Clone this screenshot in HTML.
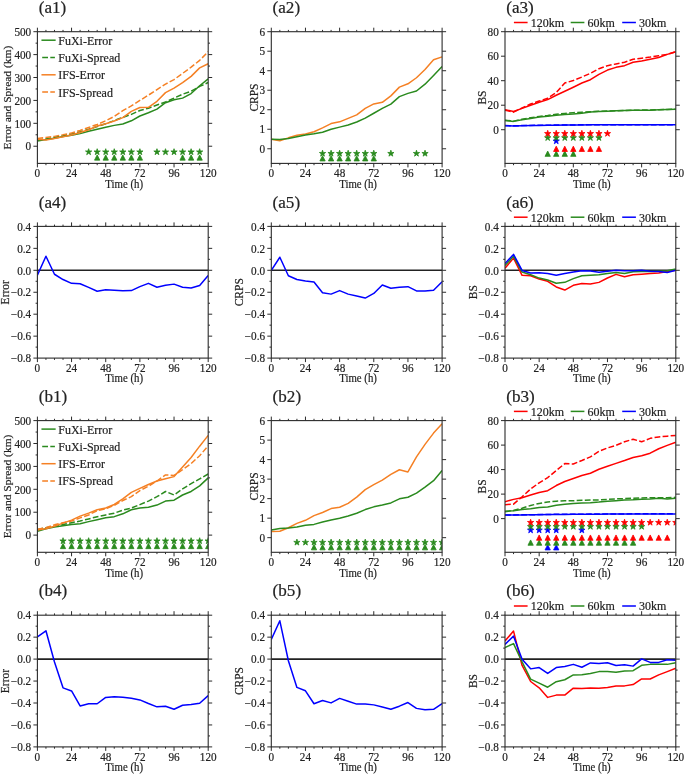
<!DOCTYPE html>
<html><head><meta charset="utf-8"><style>
html,body{margin:0;padding:0;background:#fff;}
svg{display:block;will-change:transform;}
text{font-family:"Liberation Serif", serif;fill:#222;stroke:#222;stroke-width:0.2px;}
</style></head><body>
<svg width="685" height="774" viewBox="0 0 685 774">
<defs><clipPath id="c0"><rect x="37.4" y="31.7" width="170.8" height="131.7"/></clipPath><clipPath id="c1"><rect x="271.3" y="31.7" width="170.8" height="131.7"/></clipPath><clipPath id="c2"><rect x="505" y="31.7" width="170.8" height="131.7"/></clipPath><clipPath id="c3"><rect x="37.4" y="226.4" width="170.8" height="131.7"/></clipPath><clipPath id="c4"><rect x="271.3" y="226.4" width="170.8" height="131.7"/></clipPath><clipPath id="c5"><rect x="505" y="226.4" width="170.8" height="131.7"/></clipPath><clipPath id="c6"><rect x="37.4" y="420.6" width="170.8" height="131.7"/></clipPath><clipPath id="c7"><rect x="271.3" y="420.6" width="170.8" height="131.7"/></clipPath><clipPath id="c8"><rect x="505" y="420.6" width="170.8" height="131.7"/></clipPath><clipPath id="c9"><rect x="37.4" y="615.2" width="170.8" height="131.7"/></clipPath><clipPath id="c10"><rect x="271.3" y="615.2" width="170.8" height="131.7"/></clipPath><clipPath id="c11"><rect x="505" y="615.2" width="170.8" height="131.7"/></clipPath></defs>
<rect width="685" height="774" fill="#fff"/>
<polyline points="37.4,140.27 45.94,138.89 54.48,137.29 63.02,135.69 71.56,133.85 80.1,131.79 88.64,129.27 97.18,126.52 105.72,123.78 114.26,120.57 122.8,117.36 131.34,114.38 139.88,110.49 148.42,108.2 156.96,104.99 165.5,102.02 174.04,98.12 182.58,94.23 191.12,91.25 199.66,86.44 208.2,82.55" fill="none" stroke="#2a8a1e" stroke-width="1.5" stroke-linejoin="round" stroke-dasharray="5.8 2.3" clip-path="url(#c0)"/>
<polyline points="37.4,140.95 45.94,139.58 54.48,138.21 63.02,136.6 71.56,135.23 80.1,133.62 88.64,131.33 97.18,129.27 105.72,127.21 114.26,125.38 122.8,124 131.34,120.8 139.88,115.99 148.42,112.78 156.96,109.12 165.5,102.7 174.04,99.73 182.58,98.12 191.12,93.54 199.66,85.75 208.2,78.88" fill="none" stroke="#2a8a1e" stroke-width="1.5" stroke-linejoin="round" clip-path="url(#c0)"/>
<polyline points="37.4,138.43 45.94,137.52 54.48,136.37 63.02,134.77 71.56,132.94 80.1,130.42 88.64,127.44 97.18,124.46 105.72,120.8 114.26,116.45 122.8,110.72 131.34,105.91 139.88,100.41 148.42,95.15 156.96,89.65 165.5,84.15 174.04,79.57 182.58,73.39 191.12,67.2 199.66,60.33 208.2,51.63" fill="none" stroke="#f58024" stroke-width="1.5" stroke-linejoin="round" stroke-dasharray="5.8 2.3" clip-path="url(#c0)"/>
<polyline points="37.4,139.35 45.94,140.04 54.48,138.43 63.02,136.83 71.56,135 80.1,132.48 88.64,129.73 97.18,126.07 105.72,123.78 114.26,121.03 122.8,117.59 131.34,111.41 139.88,107.51 148.42,107.28 156.96,101.33 165.5,92.63 174.04,88.04 182.58,82.55 191.12,76.36 199.66,67.89 208.2,63.77" fill="none" stroke="#f58024" stroke-width="1.5" stroke-linejoin="round" clip-path="url(#c0)"/>
<path d="M88.64 148.7L89.38 150.98L91.78 150.98L89.84 152.39L90.58 154.67L88.64 153.26L86.7 154.67L87.44 152.39L85.5 150.98L87.9 150.98ZM97.18 148.7L97.92 150.98L100.32 150.98L98.38 152.39L99.12 154.67L97.18 153.26L95.24 154.67L95.98 152.39L94.04 150.98L96.44 150.98ZM105.72 148.7L106.46 150.98L108.86 150.98L106.92 152.39L107.66 154.67L105.72 153.26L103.78 154.67L104.52 152.39L102.58 150.98L104.98 150.98ZM114.26 148.7L115 150.98L117.4 150.98L115.46 152.39L116.2 154.67L114.26 153.26L112.32 154.67L113.06 152.39L111.12 150.98L113.52 150.98ZM122.8 148.7L123.54 150.98L125.94 150.98L124 152.39L124.74 154.67L122.8 153.26L120.86 154.67L121.6 152.39L119.66 150.98L122.06 150.98ZM131.34 148.7L132.08 150.98L134.48 150.98L132.54 152.39L133.28 154.67L131.34 153.26L129.4 154.67L130.14 152.39L128.2 150.98L130.6 150.98ZM139.88 148.7L140.62 150.98L143.02 150.98L141.08 152.39L141.82 154.67L139.88 153.26L137.94 154.67L138.68 152.39L136.74 150.98L139.14 150.98ZM156.96 148.7L157.7 150.98L160.1 150.98L158.16 152.39L158.9 154.67L156.96 153.26L155.02 154.67L155.76 152.39L153.82 150.98L156.22 150.98ZM165.5 148.7L166.24 150.98L168.64 150.98L166.7 152.39L167.44 154.67L165.5 153.26L163.56 154.67L164.3 152.39L162.36 150.98L164.76 150.98ZM174.04 148.7L174.78 150.98L177.18 150.98L175.24 152.39L175.98 154.67L174.04 153.26L172.1 154.67L172.84 152.39L170.9 150.98L173.3 150.98ZM182.58 148.7L183.32 150.98L185.72 150.98L183.78 152.39L184.52 154.67L182.58 153.26L180.64 154.67L181.38 152.39L179.44 150.98L181.84 150.98ZM191.12 148.7L191.86 150.98L194.26 150.98L192.32 152.39L193.06 154.67L191.12 153.26L189.18 154.67L189.92 152.39L187.98 150.98L190.38 150.98ZM199.66 148.7L200.4 150.98L202.8 150.98L200.86 152.39L201.6 154.67L199.66 153.26L197.72 154.67L198.46 152.39L196.52 150.98L198.92 150.98Z" fill="#2a8a1e" stroke="#2a8a1e" stroke-width="0.8" stroke-linejoin="miter" clip-path="url(#c0)"/>
<path d="M97.18 154.85L94.53 160.15L99.83 160.15ZM105.72 154.85L103.07 160.15L108.37 160.15ZM114.26 154.85L111.61 160.15L116.91 160.15ZM122.8 154.85L120.15 160.15L125.45 160.15ZM131.34 154.85L128.69 160.15L133.99 160.15ZM139.88 154.85L137.23 160.15L142.53 160.15ZM182.58 154.85L179.93 160.15L185.23 160.15ZM191.12 154.85L188.47 160.15L193.77 160.15ZM199.66 154.85L197.01 160.15L202.31 160.15Z" fill="#2a8a1e" stroke="#2a8a1e" stroke-width="0.8" stroke-linejoin="miter" clip-path="url(#c0)"/>
<path d="M42.2 40.2H54.9" stroke="#2a8a1e" stroke-width="1.5" stroke-linecap="square"/>
<text transform="translate(58.3 44.6) scale(0.9346 1)" font-size="12.84">FuXi-Error</text>
<path d="M42.2 57.5H54.9" stroke="#2a8a1e" stroke-width="1.5" stroke-dasharray="5.8 2.3"/>
<text transform="translate(58.3 61.9) scale(0.9346 1)" font-size="12.84">FuXi-Spread</text>
<path d="M42.2 74.8H54.9" stroke="#f58024" stroke-width="1.5" stroke-linecap="square"/>
<text transform="translate(58.3 79.2) scale(0.9346 1)" font-size="12.84">IFS-Error</text>
<path d="M42.2 92.1H54.9" stroke="#f58024" stroke-width="1.5" stroke-dasharray="5.8 2.3"/>
<text transform="translate(58.3 96.5) scale(0.9346 1)" font-size="12.84">IFS-Spread</text>
<polyline points="271.3,139.21 279.84,140.77 288.38,137.84 296.92,135.3 305.46,133.94 314,131.79 322.54,127.89 331.08,123.6 339.62,121.84 348.16,118.33 356.7,114.82 365.24,108.38 373.78,103.89 382.32,102.33 390.86,95.89 399.4,87.11 407.94,83.79 416.48,77.75 425.02,69.55 433.56,59.8 442.1,56.87" fill="none" stroke="#f58024" stroke-width="1.5" stroke-linejoin="round" clip-path="url(#c1)"/>
<polyline points="271.3,139.21 279.84,139.6 288.38,138.43 296.92,136.67 305.46,134.91 314,133.74 322.54,132.18 331.08,129.26 339.62,127.11 348.16,124.96 356.7,122.04 365.24,118.13 373.78,113.26 382.32,108.38 390.86,104.09 399.4,96.67 407.94,93.36 416.48,91.01 425.02,84.18 433.56,75.4 442.1,66.43" fill="none" stroke="#2a8a1e" stroke-width="1.5" stroke-linejoin="round" clip-path="url(#c1)"/>
<path d="M322.54 150.2L323.28 152.48L325.68 152.48L323.74 153.89L324.48 156.17L322.54 154.76L320.6 156.17L321.34 153.89L319.4 152.48L321.8 152.48ZM331.08 150.2L331.82 152.48L334.22 152.48L332.28 153.89L333.02 156.17L331.08 154.76L329.14 156.17L329.88 153.89L327.94 152.48L330.34 152.48ZM339.62 150.2L340.36 152.48L342.76 152.48L340.82 153.89L341.56 156.17L339.62 154.76L337.68 156.17L338.42 153.89L336.48 152.48L338.88 152.48ZM348.16 150.2L348.9 152.48L351.3 152.48L349.36 153.89L350.1 156.17L348.16 154.76L346.22 156.17L346.96 153.89L345.02 152.48L347.42 152.48ZM356.7 150.2L357.44 152.48L359.84 152.48L357.9 153.89L358.64 156.17L356.7 154.76L354.76 156.17L355.5 153.89L353.56 152.48L355.96 152.48ZM365.24 150.2L365.98 152.48L368.38 152.48L366.44 153.89L367.18 156.17L365.24 154.76L363.3 156.17L364.04 153.89L362.1 152.48L364.5 152.48ZM373.78 150.2L374.52 152.48L376.92 152.48L374.98 153.89L375.72 156.17L373.78 154.76L371.84 156.17L372.58 153.89L370.64 152.48L373.04 152.48ZM390.86 150.2L391.6 152.48L394 152.48L392.06 153.89L392.8 156.17L390.86 154.76L388.92 156.17L389.66 153.89L387.72 152.48L390.12 152.48ZM416.48 150.2L417.22 152.48L419.62 152.48L417.68 153.89L418.42 156.17L416.48 154.76L414.54 156.17L415.28 153.89L413.34 152.48L415.74 152.48ZM425.02 150.2L425.76 152.48L428.16 152.48L426.22 153.89L426.96 156.17L425.02 154.76L423.08 156.17L423.82 153.89L421.88 152.48L424.28 152.48Z" fill="#2a8a1e" stroke="#2a8a1e" stroke-width="0.8" stroke-linejoin="miter" clip-path="url(#c1)"/>
<path d="M322.54 155.65L319.89 160.95L325.19 160.95ZM331.08 155.65L328.43 160.95L333.73 160.95ZM339.62 155.65L336.97 160.95L342.27 160.95ZM348.16 155.65L345.51 160.95L350.81 160.95ZM356.7 155.65L354.05 160.95L359.35 160.95ZM365.24 155.65L362.59 160.95L367.89 160.95ZM373.78 155.65L371.13 160.95L376.43 160.95Z" fill="#2a8a1e" stroke="#2a8a1e" stroke-width="0.8" stroke-linejoin="miter" clip-path="url(#c1)"/>
<polyline points="505,110.11 513.54,112.19 522.08,108.02 530.62,103.98 539.16,101.04 547.7,98.22 556.24,92.59 564.78,83.03 573.32,80.46 581.86,77.03 590.4,73.35 598.94,68.7 607.48,65.64 616.02,63.92 624.56,62.21 633.1,59.27 641.64,58.16 650.18,57.06 658.72,55.71 667.26,54.36 675.8,51.67" fill="none" stroke="#ff0000" stroke-width="1.5" stroke-linejoin="round" stroke-dasharray="5.8 2.3" clip-path="url(#c2)"/>
<polyline points="505,109.74 513.54,111.46 522.08,108.39 530.62,105.21 539.16,102.27 547.7,99.57 556.24,95.28 564.78,91.24 573.32,87.2 581.86,83.03 590.4,79.72 598.94,74.33 607.48,70.05 616.02,67.35 624.56,65.64 633.1,62.21 641.64,60.98 650.18,59.27 658.72,57.55 667.26,54.36 675.8,51.67" fill="none" stroke="#ff0000" stroke-width="1.5" stroke-linejoin="round" clip-path="url(#c2)"/>
<polyline points="505,120.28 513.54,121.13 522.08,119.17 530.62,117.7 539.16,116.48 547.7,115.5 556.24,114.27 564.78,113.42 573.32,112.68 581.86,112.19 590.4,111.7 598.94,111.33 607.48,110.97 616.02,110.72 624.56,110.47 633.1,110.23 641.64,110.11 650.18,109.98 658.72,109.74 667.26,109.49 675.8,109.13" fill="none" stroke="#2a8a1e" stroke-width="1.5" stroke-linejoin="round" stroke-dasharray="5.8 2.3" clip-path="url(#c2)"/>
<polyline points="505,120.52 513.54,121.38 522.08,119.66 530.62,118.44 539.16,117.09 547.7,116.23 556.24,115.25 564.78,114.4 573.32,113.91 581.86,113.17 590.4,112.07 598.94,111.58 607.48,111.21 616.02,110.84 624.56,110.6 633.1,110.35 641.64,110.23 650.18,110.23 658.72,109.86 667.26,109.62 675.8,109.37" fill="none" stroke="#2a8a1e" stroke-width="1.5" stroke-linejoin="round" clip-path="url(#c2)"/>
<polyline points="505,125.54 513.54,125.79 522.08,125.54 530.62,125.42 539.16,125.3 547.7,125.18 556.24,125.05 564.78,124.93 573.32,124.93 581.86,124.81 590.4,124.81 598.94,124.81 607.48,124.81 616.02,124.81 624.56,124.81 633.1,124.81 641.64,124.81 650.18,124.81 658.72,124.81 667.26,124.81 675.8,124.81" fill="none" stroke="#0000ff" stroke-width="1.5" stroke-linejoin="round" stroke-dasharray="5.8 2.3" clip-path="url(#c2)"/>
<polyline points="505,125.67 513.54,125.91 522.08,125.67 530.62,125.54 539.16,125.42 547.7,125.3 556.24,125.18 564.78,125.05 573.32,125.05 581.86,124.93 590.4,124.81 598.94,124.81 607.48,124.81 616.02,124.81 624.56,124.81 633.1,124.81 641.64,124.81 650.18,124.81 658.72,124.81 667.26,124.81 675.8,124.81" fill="none" stroke="#0000ff" stroke-width="1.5" stroke-linejoin="round" clip-path="url(#c2)"/>
<path d="M556.24 137.8L556.98 140.08L559.38 140.08L557.44 141.49L558.18 143.77L556.24 142.36L554.3 143.77L555.04 141.49L553.1 140.08L555.5 140.08Z" fill="#0000ff" stroke="#0000ff" stroke-width="0.8" stroke-linejoin="miter" clip-path="url(#c2)"/>
<path d="M547.7 134.5L548.44 136.78L550.84 136.78L548.9 138.19L549.64 140.47L547.7 139.06L545.76 140.47L546.5 138.19L544.56 136.78L546.96 136.78ZM556.24 134.5L556.98 136.78L559.38 136.78L557.44 138.19L558.18 140.47L556.24 139.06L554.3 140.47L555.04 138.19L553.1 136.78L555.5 136.78ZM564.78 134.5L565.52 136.78L567.92 136.78L565.98 138.19L566.72 140.47L564.78 139.06L562.84 140.47L563.58 138.19L561.64 136.78L564.04 136.78ZM573.32 134.5L574.06 136.78L576.46 136.78L574.52 138.19L575.26 140.47L573.32 139.06L571.38 140.47L572.12 138.19L570.18 136.78L572.58 136.78ZM581.86 134.5L582.6 136.78L585 136.78L583.06 138.19L583.8 140.47L581.86 139.06L579.92 140.47L580.66 138.19L578.72 136.78L581.12 136.78ZM590.4 134.5L591.14 136.78L593.54 136.78L591.6 138.19L592.34 140.47L590.4 139.06L588.46 140.47L589.2 138.19L587.26 136.78L589.66 136.78ZM598.94 134.5L599.68 136.78L602.08 136.78L600.14 138.19L600.88 140.47L598.94 139.06L597 140.47L597.74 138.19L595.8 136.78L598.2 136.78Z" fill="#2a8a1e" stroke="#2a8a1e" stroke-width="0.8" stroke-linejoin="miter" clip-path="url(#c2)"/>
<path d="M547.7 130.3L548.44 132.58L550.84 132.58L548.9 133.99L549.64 136.27L547.7 134.86L545.76 136.27L546.5 133.99L544.56 132.58L546.96 132.58ZM556.24 130.3L556.98 132.58L559.38 132.58L557.44 133.99L558.18 136.27L556.24 134.86L554.3 136.27L555.04 133.99L553.1 132.58L555.5 132.58ZM564.78 130.3L565.52 132.58L567.92 132.58L565.98 133.99L566.72 136.27L564.78 134.86L562.84 136.27L563.58 133.99L561.64 132.58L564.04 132.58ZM573.32 130.3L574.06 132.58L576.46 132.58L574.52 133.99L575.26 136.27L573.32 134.86L571.38 136.27L572.12 133.99L570.18 132.58L572.58 132.58ZM581.86 130.3L582.6 132.58L585 132.58L583.06 133.99L583.8 136.27L581.86 134.86L579.92 136.27L580.66 133.99L578.72 132.58L581.12 132.58ZM590.4 130.3L591.14 132.58L593.54 132.58L591.6 133.99L592.34 136.27L590.4 134.86L588.46 136.27L589.2 133.99L587.26 132.58L589.66 132.58ZM598.94 130.3L599.68 132.58L602.08 132.58L600.14 133.99L600.88 136.27L598.94 134.86L597 136.27L597.74 133.99L595.8 132.58L598.2 132.58ZM607.48 130.3L608.22 132.58L610.62 132.58L608.68 133.99L609.42 136.27L607.48 134.86L605.54 136.27L606.28 133.99L604.34 132.58L606.74 132.58Z" fill="#ff0000" stroke="#ff0000" stroke-width="0.8" stroke-linejoin="miter" clip-path="url(#c2)"/>
<path d="M547.7 151.05L545.05 156.35L550.35 156.35ZM556.24 151.05L553.59 156.35L558.89 156.35ZM564.78 151.05L562.13 156.35L567.43 156.35ZM573.32 151.05L570.67 156.35L575.97 156.35Z" fill="#2a8a1e" stroke="#2a8a1e" stroke-width="0.8" stroke-linejoin="miter" clip-path="url(#c2)"/>
<path d="M556.24 146.15L553.59 151.45L558.89 151.45ZM564.78 146.15L562.13 151.45L567.43 151.45ZM573.32 146.15L570.67 151.45L575.97 151.45ZM581.86 146.15L579.21 151.45L584.51 151.45ZM590.4 146.15L587.75 151.45L593.05 151.45ZM598.94 146.15L596.29 151.45L601.59 151.45Z" fill="#ff0000" stroke="#ff0000" stroke-width="0.8" stroke-linejoin="miter" clip-path="url(#c2)"/>
<path d="M513.9 22.5H527.6" stroke="#ff0000" stroke-width="1.5"/>
<text transform="translate(530.7 26.8) scale(0.9346 1)" font-size="12.84">120km</text>
<path d="M570.7 22.5H584.4" stroke="#2a8a1e" stroke-width="1.5"/>
<text transform="translate(587.5 26.8) scale(0.9346 1)" font-size="12.84">60km</text>
<path d="M622.2 22.5H635.9" stroke="#0000ff" stroke-width="1.5"/>
<text transform="translate(639 26.8) scale(0.9346 1)" font-size="12.84">30km</text>
<path d="M37.4 270.3H208.2" stroke="#222" stroke-width="1.6"/>
<path d="M271.3 270.3H442.1" stroke="#222" stroke-width="1.6"/>
<path d="M505 270.3H675.8" stroke="#222" stroke-width="1.6"/>
<path d="M37.4 659.1H208.2" stroke="#222" stroke-width="1.6"/>
<path d="M271.3 659.1H442.1" stroke="#222" stroke-width="1.6"/>
<path d="M505 659.1H675.8" stroke="#222" stroke-width="1.6"/>
<polyline points="37.4,275.13 45.94,256.25 54.48,274.25 63.02,279.52 71.56,283.36 80.1,283.69 88.64,287.42 97.18,291.26 105.72,289.84 114.26,290.16 122.8,290.71 131.34,290.6 139.88,286.65 148.42,283.36 156.96,287.2 165.5,285.34 174.04,284.13 182.58,287.2 191.12,287.97 199.66,285.45 208.2,275.46" fill="none" stroke="#0000ff" stroke-width="1.5" stroke-linejoin="round" clip-path="url(#c3)"/>
<polyline points="271.3,270.3 279.84,257.24 288.38,275.79 296.92,279.52 305.46,280.95 314,282.04 322.54,292.8 331.08,294.12 339.62,290.6 348.16,294.12 356.7,296.09 365.24,298.07 373.78,293.46 382.32,285.01 390.86,288.3 399.4,287.2 407.94,286.65 416.48,290.93 425.02,290.93 433.56,290.16 442.1,281.71" fill="none" stroke="#0000ff" stroke-width="1.5" stroke-linejoin="round" clip-path="url(#c4)"/>
<polyline points="505,268.21 513.54,258.12 522.08,275.35 530.62,275.68 539.16,279.08 547.7,281.27 556.24,286.98 564.78,290.06 573.32,285.34 581.86,283.58 590.4,283.91 598.94,282.37 607.48,277.98 616.02,274.36 624.56,276.67 633.1,274.8 641.64,274.14 650.18,273.48 658.72,273.04 667.26,271.51 675.8,270.3" fill="none" stroke="#ff0000" stroke-width="1.5" stroke-linejoin="round" clip-path="url(#c5)"/>
<polyline points="505,265.58 513.54,256.36 522.08,272.06 530.62,274.8 539.16,278.09 547.7,279.96 556.24,283.25 564.78,282.37 573.32,278.64 581.86,275.79 590.4,275.35 598.94,274.8 607.48,273.48 616.02,272.39 624.56,273.48 633.1,271.84 641.64,271.51 650.18,271.51 658.72,271.18 667.26,270.74 675.8,269.09" fill="none" stroke="#2a8a1e" stroke-width="1.5" stroke-linejoin="round" clip-path="url(#c5)"/>
<polyline points="505,263.61 513.54,254.39 522.08,270.41 530.62,273.04 539.16,272.82 547.7,273.48 556.24,275.24 564.78,273.48 573.32,271.95 581.86,270.85 590.4,270.96 598.94,272.17 607.48,271.18 616.02,270.3 624.56,270.74 633.1,270.74 641.64,270.3 650.18,271.18 658.72,271.51 667.26,272.5 675.8,270.19" fill="none" stroke="#0000ff" stroke-width="1.5" stroke-linejoin="round" clip-path="url(#c5)"/>
<path d="M513.9 217.2H527.6" stroke="#ff0000" stroke-width="1.5"/>
<text transform="translate(530.7 221.5) scale(0.9346 1)" font-size="12.84">120km</text>
<path d="M570.7 217.2H584.4" stroke="#2a8a1e" stroke-width="1.5"/>
<text transform="translate(587.5 221.5) scale(0.9346 1)" font-size="12.84">60km</text>
<path d="M622.2 217.2H635.9" stroke="#0000ff" stroke-width="1.5"/>
<text transform="translate(639 221.5) scale(0.9346 1)" font-size="12.84">30km</text>
<polyline points="37.4,529.74 45.94,527.63 54.48,526.23 63.02,524.59 71.56,522.75 80.1,521.04 88.64,518.95 97.18,516.66 105.72,514.97 114.26,513.16 122.8,510.16 131.34,508.07 139.88,504.57 148.42,501.09 156.96,496.69 165.5,491.49 174.04,494.99 182.58,488.9 191.12,483.61 199.66,478.91 208.2,474.01" fill="none" stroke="#2a8a1e" stroke-width="1.5" stroke-linejoin="round" stroke-dasharray="5.8 2.3" clip-path="url(#c6)"/>
<polyline points="37.4,531.23 45.94,528.82 54.48,527.11 63.02,525.73 71.56,524.59 80.1,523.67 88.64,521.61 97.18,519.66 105.72,517.85 114.26,516.66 122.8,513.82 131.34,509.77 139.88,508.07 148.42,507.18 156.96,505.07 165.5,501.09 174.04,500.17 182.58,494.99 191.12,491.49 199.66,485.9 208.2,477.91" fill="none" stroke="#2a8a1e" stroke-width="1.5" stroke-linejoin="round" clip-path="url(#c6)"/>
<polyline points="37.4,529.33 45.94,527.63 54.48,524.84 63.02,522.75 71.56,521.04 80.1,517.85 88.64,514.97 97.18,510.61 105.72,508.87 114.26,505.35 122.8,500.54 131.34,496.69 139.88,490.6 148.42,486.2 156.96,481 165.5,474.91 174.04,475.41 182.58,469.73 191.12,463.52 199.66,455.74 208.2,445.77" fill="none" stroke="#f58024" stroke-width="1.5" stroke-linejoin="round" stroke-dasharray="5.8 2.3" clip-path="url(#c6)"/>
<polyline points="37.4,530.08 45.94,528.82 54.48,526.23 63.02,523.14 71.56,520.14 80.1,516.16 88.64,513.16 97.18,509.7 105.72,507.96 114.26,504.48 122.8,498.93 131.34,492.38 139.88,488.31 148.42,484.5 156.96,481 165.5,478.71 174.04,476.62 182.58,467.03 191.12,457.48 199.66,446.16 208.2,435.37" fill="none" stroke="#f58024" stroke-width="1.5" stroke-linejoin="round" clip-path="url(#c6)"/>
<path d="M63.02 537.7L63.76 539.98L66.16 539.98L64.22 541.39L64.96 543.67L63.02 542.26L61.08 543.67L61.82 541.39L59.88 539.98L62.28 539.98ZM71.56 537.7L72.3 539.98L74.7 539.98L72.76 541.39L73.5 543.67L71.56 542.26L69.62 543.67L70.36 541.39L68.42 539.98L70.82 539.98ZM80.1 537.7L80.84 539.98L83.24 539.98L81.3 541.39L82.04 543.67L80.1 542.26L78.16 543.67L78.9 541.39L76.96 539.98L79.36 539.98ZM88.64 537.7L89.38 539.98L91.78 539.98L89.84 541.39L90.58 543.67L88.64 542.26L86.7 543.67L87.44 541.39L85.5 539.98L87.9 539.98ZM97.18 537.7L97.92 539.98L100.32 539.98L98.38 541.39L99.12 543.67L97.18 542.26L95.24 543.67L95.98 541.39L94.04 539.98L96.44 539.98ZM105.72 537.7L106.46 539.98L108.86 539.98L106.92 541.39L107.66 543.67L105.72 542.26L103.78 543.67L104.52 541.39L102.58 539.98L104.98 539.98ZM114.26 537.7L115 539.98L117.4 539.98L115.46 541.39L116.2 543.67L114.26 542.26L112.32 543.67L113.06 541.39L111.12 539.98L113.52 539.98ZM122.8 537.7L123.54 539.98L125.94 539.98L124 541.39L124.74 543.67L122.8 542.26L120.86 543.67L121.6 541.39L119.66 539.98L122.06 539.98ZM131.34 537.7L132.08 539.98L134.48 539.98L132.54 541.39L133.28 543.67L131.34 542.26L129.4 543.67L130.14 541.39L128.2 539.98L130.6 539.98ZM139.88 537.7L140.62 539.98L143.02 539.98L141.08 541.39L141.82 543.67L139.88 542.26L137.94 543.67L138.68 541.39L136.74 539.98L139.14 539.98ZM148.42 537.7L149.16 539.98L151.56 539.98L149.62 541.39L150.36 543.67L148.42 542.26L146.48 543.67L147.22 541.39L145.28 539.98L147.68 539.98ZM156.96 537.7L157.7 539.98L160.1 539.98L158.16 541.39L158.9 543.67L156.96 542.26L155.02 543.67L155.76 541.39L153.82 539.98L156.22 539.98ZM165.5 537.7L166.24 539.98L168.64 539.98L166.7 541.39L167.44 543.67L165.5 542.26L163.56 543.67L164.3 541.39L162.36 539.98L164.76 539.98ZM174.04 537.7L174.78 539.98L177.18 539.98L175.24 541.39L175.98 543.67L174.04 542.26L172.1 543.67L172.84 541.39L170.9 539.98L173.3 539.98ZM182.58 537.7L183.32 539.98L185.72 539.98L183.78 541.39L184.52 543.67L182.58 542.26L180.64 543.67L181.38 541.39L179.44 539.98L181.84 539.98ZM191.12 537.7L191.86 539.98L194.26 539.98L192.32 541.39L193.06 543.67L191.12 542.26L189.18 543.67L189.92 541.39L187.98 539.98L190.38 539.98ZM199.66 537.7L200.4 539.98L202.8 539.98L200.86 541.39L201.6 543.67L199.66 542.26L197.72 543.67L198.46 541.39L196.52 539.98L198.92 539.98ZM208.2 537.7L208.94 539.98L211.34 539.98L209.4 541.39L210.14 543.67L208.2 542.26L206.26 543.67L207 541.39L205.06 539.98L207.46 539.98Z" fill="#2a8a1e" stroke="#2a8a1e" stroke-width="0.8" stroke-linejoin="miter" clip-path="url(#c6)"/>
<path d="M63.02 543.35L60.37 548.65L65.67 548.65ZM71.56 543.35L68.91 548.65L74.21 548.65ZM80.1 543.35L77.45 548.65L82.75 548.65ZM88.64 543.35L85.99 548.65L91.29 548.65ZM97.18 543.35L94.53 548.65L99.83 548.65ZM105.72 543.35L103.07 548.65L108.37 548.65ZM114.26 543.35L111.61 548.65L116.91 548.65ZM122.8 543.35L120.15 548.65L125.45 548.65ZM131.34 543.35L128.69 548.65L133.99 548.65ZM139.88 543.35L137.23 548.65L142.53 548.65ZM148.42 543.35L145.77 548.65L151.07 548.65ZM156.96 543.35L154.31 548.65L159.61 548.65ZM165.5 543.35L162.85 548.65L168.15 548.65ZM174.04 543.35L171.39 548.65L176.69 548.65ZM182.58 543.35L179.93 548.65L185.23 548.65ZM191.12 543.35L188.47 548.65L193.77 548.65ZM199.66 543.35L197.01 548.65L202.31 548.65ZM208.2 543.35L205.55 548.65L210.85 548.65Z" fill="#2a8a1e" stroke="#2a8a1e" stroke-width="0.8" stroke-linejoin="miter" clip-path="url(#c6)"/>
<path d="M42.2 429.1H54.9" stroke="#2a8a1e" stroke-width="1.5" stroke-linecap="square"/>
<text transform="translate(58.3 433.5) scale(0.9346 1)" font-size="12.84">FuXi-Error</text>
<path d="M42.2 446.4H54.9" stroke="#2a8a1e" stroke-width="1.5" stroke-dasharray="5.8 2.3"/>
<text transform="translate(58.3 450.8) scale(0.9346 1)" font-size="12.84">FuXi-Spread</text>
<path d="M42.2 463.7H54.9" stroke="#f58024" stroke-width="1.5" stroke-linecap="square"/>
<text transform="translate(58.3 468.1) scale(0.9346 1)" font-size="12.84">IFS-Error</text>
<path d="M42.2 481H54.9" stroke="#f58024" stroke-width="1.5" stroke-dasharray="5.8 2.3"/>
<text transform="translate(58.3 485.4) scale(0.9346 1)" font-size="12.84">IFS-Spread</text>
<polyline points="271.3,531.42 279.84,531.23 288.38,527.72 296.92,523.42 305.46,520.3 314,515.62 322.54,512.5 331.08,508.6 339.62,507.23 348.16,503.33 356.7,497.08 365.24,489.67 373.78,484.6 382.32,480.11 390.86,474.45 399.4,469.77 407.94,471.91 416.48,456.89 425.02,444.4 433.56,433.09 442.1,423.72" fill="none" stroke="#f58024" stroke-width="1.5" stroke-linejoin="round" clip-path="url(#c7)"/>
<polyline points="271.3,530.06 279.84,528.5 288.38,527.91 296.92,526.94 305.46,525.18 314,524.4 322.54,522.06 331.08,519.91 339.62,518.16 348.16,516.01 356.7,513.28 365.24,509.57 373.78,506.84 382.32,505.08 390.86,502.94 399.4,498.84 407.94,497.28 416.48,493.18 425.02,487.13 433.56,480.69 442.1,470.55" fill="none" stroke="#2a8a1e" stroke-width="1.5" stroke-linejoin="round" clip-path="url(#c7)"/>
<path d="M296.92 539.1L297.66 541.38L300.06 541.38L298.12 542.79L298.86 545.07L296.92 543.66L294.98 545.07L295.72 542.79L293.78 541.38L296.18 541.38ZM305.46 539.1L306.2 541.38L308.6 541.38L306.66 542.79L307.4 545.07L305.46 543.66L303.52 545.07L304.26 542.79L302.32 541.38L304.72 541.38ZM314 539.1L314.74 541.38L317.14 541.38L315.2 542.79L315.94 545.07L314 543.66L312.06 545.07L312.8 542.79L310.86 541.38L313.26 541.38ZM322.54 539.1L323.28 541.38L325.68 541.38L323.74 542.79L324.48 545.07L322.54 543.66L320.6 545.07L321.34 542.79L319.4 541.38L321.8 541.38ZM331.08 539.1L331.82 541.38L334.22 541.38L332.28 542.79L333.02 545.07L331.08 543.66L329.14 545.07L329.88 542.79L327.94 541.38L330.34 541.38ZM339.62 539.1L340.36 541.38L342.76 541.38L340.82 542.79L341.56 545.07L339.62 543.66L337.68 545.07L338.42 542.79L336.48 541.38L338.88 541.38ZM348.16 539.1L348.9 541.38L351.3 541.38L349.36 542.79L350.1 545.07L348.16 543.66L346.22 545.07L346.96 542.79L345.02 541.38L347.42 541.38ZM356.7 539.1L357.44 541.38L359.84 541.38L357.9 542.79L358.64 545.07L356.7 543.66L354.76 545.07L355.5 542.79L353.56 541.38L355.96 541.38ZM365.24 539.1L365.98 541.38L368.38 541.38L366.44 542.79L367.18 545.07L365.24 543.66L363.3 545.07L364.04 542.79L362.1 541.38L364.5 541.38ZM373.78 539.1L374.52 541.38L376.92 541.38L374.98 542.79L375.72 545.07L373.78 543.66L371.84 545.07L372.58 542.79L370.64 541.38L373.04 541.38ZM382.32 539.1L383.06 541.38L385.46 541.38L383.52 542.79L384.26 545.07L382.32 543.66L380.38 545.07L381.12 542.79L379.18 541.38L381.58 541.38ZM390.86 539.1L391.6 541.38L394 541.38L392.06 542.79L392.8 545.07L390.86 543.66L388.92 545.07L389.66 542.79L387.72 541.38L390.12 541.38ZM399.4 539.1L400.14 541.38L402.54 541.38L400.6 542.79L401.34 545.07L399.4 543.66L397.46 545.07L398.2 542.79L396.26 541.38L398.66 541.38ZM407.94 539.1L408.68 541.38L411.08 541.38L409.14 542.79L409.88 545.07L407.94 543.66L406 545.07L406.74 542.79L404.8 541.38L407.2 541.38ZM416.48 539.1L417.22 541.38L419.62 541.38L417.68 542.79L418.42 545.07L416.48 543.66L414.54 545.07L415.28 542.79L413.34 541.38L415.74 541.38ZM425.02 539.1L425.76 541.38L428.16 541.38L426.22 542.79L426.96 545.07L425.02 543.66L423.08 545.07L423.82 542.79L421.88 541.38L424.28 541.38ZM433.56 539.1L434.3 541.38L436.7 541.38L434.76 542.79L435.5 545.07L433.56 543.66L431.62 545.07L432.36 542.79L430.42 541.38L432.82 541.38ZM442.1 539.1L442.84 541.38L445.24 541.38L443.3 542.79L444.04 545.07L442.1 543.66L440.16 545.07L440.9 542.79L438.96 541.38L441.36 541.38Z" fill="#2a8a1e" stroke="#2a8a1e" stroke-width="0.8" stroke-linejoin="miter" clip-path="url(#c7)"/>
<path d="M314 544.55L311.35 549.85L316.65 549.85ZM322.54 544.55L319.89 549.85L325.19 549.85ZM331.08 544.55L328.43 549.85L333.73 549.85ZM339.62 544.55L336.97 549.85L342.27 549.85ZM348.16 544.55L345.51 549.85L350.81 549.85ZM356.7 544.55L354.05 549.85L359.35 549.85ZM365.24 544.55L362.59 549.85L367.89 549.85ZM373.78 544.55L371.13 549.85L376.43 549.85ZM382.32 544.55L379.67 549.85L384.97 549.85ZM390.86 544.55L388.21 549.85L393.51 549.85ZM399.4 544.55L396.75 549.85L402.05 549.85ZM407.94 544.55L405.29 549.85L410.59 549.85ZM416.48 544.55L413.83 549.85L419.13 549.85ZM425.02 544.55L422.37 549.85L427.67 549.85ZM433.56 544.55L430.91 549.85L436.21 549.85ZM442.1 544.55L439.45 549.85L444.75 549.85Z" fill="#2a8a1e" stroke="#2a8a1e" stroke-width="0.8" stroke-linejoin="miter" clip-path="url(#c7)"/>
<polyline points="505,504.64 513.54,504.15 522.08,496.8 530.62,488.96 539.16,482.84 547.7,477.57 556.24,470.58 564.78,463.6 573.32,463.97 581.86,460.54 590.4,456.86 598.94,451.35 607.48,447.92 616.02,445.35 624.56,441.79 633.1,439.22 641.64,441.79 650.18,438.36 658.72,436.89 667.26,436.16 675.8,435.42" fill="none" stroke="#ff0000" stroke-width="1.5" stroke-linejoin="round" stroke-dasharray="5.8 2.3" clip-path="url(#c8)"/>
<polyline points="505,501.7 513.54,499.37 522.08,497.66 530.62,495.09 539.16,492.51 547.7,490.68 556.24,485.53 564.78,481.49 573.32,478.55 581.86,475.49 590.4,473.28 598.94,469.24 607.48,466.3 616.02,463.36 624.56,460.54 633.1,457.48 641.64,455.76 650.18,453.19 658.72,448.78 667.26,445.35 675.8,442.28" fill="none" stroke="#ff0000" stroke-width="1.5" stroke-linejoin="round" clip-path="url(#c8)"/>
<polyline points="505,511.75 513.54,510.4 522.08,508.2 530.62,505.5 539.16,503.42 547.7,502.07 556.24,501.21 564.78,500.72 573.32,500.72 581.86,500.36 590.4,500.11 598.94,499.87 607.48,499.37 616.02,498.88 624.56,498.64 633.1,498.15 641.64,498.03 650.18,497.78 658.72,497.66 667.26,497.78 675.8,497.29" fill="none" stroke="#2a8a1e" stroke-width="1.5" stroke-linejoin="round" stroke-dasharray="5.8 2.3" clip-path="url(#c8)"/>
<polyline points="505,511.14 513.54,510.77 522.08,509.42 530.62,508.69 539.16,507.58 547.7,506.97 556.24,505.26 564.78,504.15 573.32,503.42 581.86,503.05 590.4,502.68 598.94,502.07 607.48,501.21 616.02,500.72 624.56,500.11 633.1,499.87 641.64,499.37 650.18,498.88 658.72,498.15 667.26,498.88 675.8,498.15" fill="none" stroke="#2a8a1e" stroke-width="1.5" stroke-linejoin="round" clip-path="url(#c8)"/>
<polyline points="505,514.93 513.54,514.93 522.08,514.81 530.62,514.69 539.16,514.57 547.7,514.44 556.24,514.32 564.78,514.32 573.32,514.2 581.86,514.2 590.4,514.08 598.94,514.08 607.48,513.95 616.02,513.95 624.56,513.95 633.1,513.83 641.64,513.83 650.18,513.83 658.72,513.83 667.26,513.83 675.8,513.83" fill="none" stroke="#0000ff" stroke-width="1.5" stroke-linejoin="round" stroke-dasharray="5.8 2.3" clip-path="url(#c8)"/>
<polyline points="505,515.06 513.54,515.06 522.08,514.93 530.62,514.81 539.16,514.69 547.7,514.57 556.24,514.44 564.78,514.44 573.32,514.32 581.86,514.32 590.4,514.2 598.94,514.2 607.48,514.08 616.02,514.08 624.56,514.08 633.1,513.95 641.64,513.95 650.18,513.95 658.72,513.95 667.26,513.95 675.8,513.95" fill="none" stroke="#0000ff" stroke-width="1.5" stroke-linejoin="round" clip-path="url(#c8)"/>
<path d="M530.62 526.9L531.36 529.18L533.76 529.18L531.82 530.59L532.56 532.87L530.62 531.46L528.68 532.87L529.42 530.59L527.48 529.18L529.88 529.18ZM539.16 526.9L539.9 529.18L542.3 529.18L540.36 530.59L541.1 532.87L539.16 531.46L537.22 532.87L537.96 530.59L536.02 529.18L538.42 529.18ZM547.7 526.9L548.44 529.18L550.84 529.18L548.9 530.59L549.64 532.87L547.7 531.46L545.76 532.87L546.5 530.59L544.56 529.18L546.96 529.18ZM556.24 526.9L556.98 529.18L559.38 529.18L557.44 530.59L558.18 532.87L556.24 531.46L554.3 532.87L555.04 530.59L553.1 529.18L555.5 529.18ZM581.86 526.9L582.6 529.18L585 529.18L583.06 530.59L583.8 532.87L581.86 531.46L579.92 532.87L580.66 530.59L578.72 529.18L581.12 529.18Z" fill="#0000ff" stroke="#0000ff" stroke-width="0.8" stroke-linejoin="miter" clip-path="url(#c8)"/>
<path d="M530.62 523.3L531.36 525.58L533.76 525.58L531.82 526.99L532.56 529.27L530.62 527.86L528.68 529.27L529.42 526.99L527.48 525.58L529.88 525.58ZM539.16 523.3L539.9 525.58L542.3 525.58L540.36 526.99L541.1 529.27L539.16 527.86L537.22 529.27L537.96 526.99L536.02 525.58L538.42 525.58ZM547.7 523.3L548.44 525.58L550.84 525.58L548.9 526.99L549.64 529.27L547.7 527.86L545.76 529.27L546.5 526.99L544.56 525.58L546.96 525.58ZM556.24 523.3L556.98 525.58L559.38 525.58L557.44 526.99L558.18 529.27L556.24 527.86L554.3 529.27L555.04 526.99L553.1 525.58L555.5 525.58ZM564.78 523.3L565.52 525.58L567.92 525.58L565.98 526.99L566.72 529.27L564.78 527.86L562.84 529.27L563.58 526.99L561.64 525.58L564.04 525.58ZM573.32 523.3L574.06 525.58L576.46 525.58L574.52 526.99L575.26 529.27L573.32 527.86L571.38 529.27L572.12 526.99L570.18 525.58L572.58 525.58ZM581.86 523.3L582.6 525.58L585 525.58L583.06 526.99L583.8 529.27L581.86 527.86L579.92 529.27L580.66 526.99L578.72 525.58L581.12 525.58ZM590.4 523.3L591.14 525.58L593.54 525.58L591.6 526.99L592.34 529.27L590.4 527.86L588.46 529.27L589.2 526.99L587.26 525.58L589.66 525.58ZM598.94 523.3L599.68 525.58L602.08 525.58L600.14 526.99L600.88 529.27L598.94 527.86L597 529.27L597.74 526.99L595.8 525.58L598.2 525.58ZM607.48 523.3L608.22 525.58L610.62 525.58L608.68 526.99L609.42 529.27L607.48 527.86L605.54 529.27L606.28 526.99L604.34 525.58L606.74 525.58ZM616.02 523.3L616.76 525.58L619.16 525.58L617.22 526.99L617.96 529.27L616.02 527.86L614.08 529.27L614.82 526.99L612.88 525.58L615.28 525.58ZM624.56 523.3L625.3 525.58L627.7 525.58L625.76 526.99L626.5 529.27L624.56 527.86L622.62 529.27L623.36 526.99L621.42 525.58L623.82 525.58ZM633.1 523.3L633.84 525.58L636.24 525.58L634.3 526.99L635.04 529.27L633.1 527.86L631.16 529.27L631.9 526.99L629.96 525.58L632.36 525.58ZM641.64 523.3L642.38 525.58L644.78 525.58L642.84 526.99L643.58 529.27L641.64 527.86L639.7 529.27L640.44 526.99L638.5 525.58L640.9 525.58Z" fill="#2a8a1e" stroke="#2a8a1e" stroke-width="0.8" stroke-linejoin="miter" clip-path="url(#c8)"/>
<path d="M530.62 519.2L531.36 521.48L533.76 521.48L531.82 522.89L532.56 525.17L530.62 523.76L528.68 525.17L529.42 522.89L527.48 521.48L529.88 521.48ZM539.16 519.2L539.9 521.48L542.3 521.48L540.36 522.89L541.1 525.17L539.16 523.76L537.22 525.17L537.96 522.89L536.02 521.48L538.42 521.48ZM547.7 519.2L548.44 521.48L550.84 521.48L548.9 522.89L549.64 525.17L547.7 523.76L545.76 525.17L546.5 522.89L544.56 521.48L546.96 521.48ZM556.24 519.2L556.98 521.48L559.38 521.48L557.44 522.89L558.18 525.17L556.24 523.76L554.3 525.17L555.04 522.89L553.1 521.48L555.5 521.48ZM564.78 519.2L565.52 521.48L567.92 521.48L565.98 522.89L566.72 525.17L564.78 523.76L562.84 525.17L563.58 522.89L561.64 521.48L564.04 521.48ZM573.32 519.2L574.06 521.48L576.46 521.48L574.52 522.89L575.26 525.17L573.32 523.76L571.38 525.17L572.12 522.89L570.18 521.48L572.58 521.48ZM581.86 519.2L582.6 521.48L585 521.48L583.06 522.89L583.8 525.17L581.86 523.76L579.92 525.17L580.66 522.89L578.72 521.48L581.12 521.48ZM590.4 519.2L591.14 521.48L593.54 521.48L591.6 522.89L592.34 525.17L590.4 523.76L588.46 525.17L589.2 522.89L587.26 521.48L589.66 521.48ZM598.94 519.2L599.68 521.48L602.08 521.48L600.14 522.89L600.88 525.17L598.94 523.76L597 525.17L597.74 522.89L595.8 521.48L598.2 521.48ZM607.48 519.2L608.22 521.48L610.62 521.48L608.68 522.89L609.42 525.17L607.48 523.76L605.54 525.17L606.28 522.89L604.34 521.48L606.74 521.48ZM616.02 519.2L616.76 521.48L619.16 521.48L617.22 522.89L617.96 525.17L616.02 523.76L614.08 525.17L614.82 522.89L612.88 521.48L615.28 521.48ZM624.56 519.2L625.3 521.48L627.7 521.48L625.76 522.89L626.5 525.17L624.56 523.76L622.62 525.17L623.36 522.89L621.42 521.48L623.82 521.48ZM633.1 519.2L633.84 521.48L636.24 521.48L634.3 522.89L635.04 525.17L633.1 523.76L631.16 525.17L631.9 522.89L629.96 521.48L632.36 521.48ZM641.64 519.2L642.38 521.48L644.78 521.48L642.84 522.89L643.58 525.17L641.64 523.76L639.7 525.17L640.44 522.89L638.5 521.48L640.9 521.48ZM650.18 519.2L650.92 521.48L653.32 521.48L651.38 522.89L652.12 525.17L650.18 523.76L648.24 525.17L648.98 522.89L647.04 521.48L649.44 521.48ZM658.72 519.2L659.46 521.48L661.86 521.48L659.92 522.89L660.66 525.17L658.72 523.76L656.78 525.17L657.52 522.89L655.58 521.48L657.98 521.48ZM667.26 519.2L668 521.48L670.4 521.48L668.46 522.89L669.2 525.17L667.26 523.76L665.32 525.17L666.06 522.89L664.12 521.48L666.52 521.48ZM675.8 519.2L676.54 521.48L678.94 521.48L677 522.89L677.74 525.17L675.8 523.76L673.86 525.17L674.6 522.89L672.66 521.48L675.06 521.48Z" fill="#ff0000" stroke="#ff0000" stroke-width="0.8" stroke-linejoin="miter" clip-path="url(#c8)"/>
<path d="M547.7 544.65L545.05 549.95L550.35 549.95ZM556.24 544.65L553.59 549.95L558.89 549.95Z" fill="#0000ff" stroke="#0000ff" stroke-width="0.8" stroke-linejoin="miter" clip-path="url(#c8)"/>
<path d="M530.62 539.95L527.97 545.25L533.27 545.25ZM539.16 539.95L536.51 545.25L541.81 545.25ZM547.7 539.95L545.05 545.25L550.35 545.25ZM556.24 539.95L553.59 545.25L558.89 545.25ZM564.78 539.95L562.13 545.25L567.43 545.25ZM573.32 539.95L570.67 545.25L575.97 545.25ZM581.86 539.95L579.21 545.25L584.51 545.25ZM590.4 539.95L587.75 545.25L593.05 545.25ZM598.94 539.95L596.29 545.25L601.59 545.25ZM607.48 539.95L604.83 545.25L610.13 545.25ZM616.02 539.95L613.37 545.25L618.67 545.25ZM624.56 539.95L621.91 545.25L627.21 545.25ZM633.1 539.95L630.45 545.25L635.75 545.25Z" fill="#2a8a1e" stroke="#2a8a1e" stroke-width="0.8" stroke-linejoin="miter" clip-path="url(#c8)"/>
<path d="M539.16 534.95L536.51 540.25L541.81 540.25ZM547.7 534.95L545.05 540.25L550.35 540.25ZM556.24 534.95L553.59 540.25L558.89 540.25ZM564.78 534.95L562.13 540.25L567.43 540.25ZM573.32 534.95L570.67 540.25L575.97 540.25ZM581.86 534.95L579.21 540.25L584.51 540.25ZM590.4 534.95L587.75 540.25L593.05 540.25ZM598.94 534.95L596.29 540.25L601.59 540.25ZM607.48 534.95L604.83 540.25L610.13 540.25ZM616.02 534.95L613.37 540.25L618.67 540.25ZM624.56 534.95L621.91 540.25L627.21 540.25ZM633.1 534.95L630.45 540.25L635.75 540.25ZM641.64 534.95L638.99 540.25L644.29 540.25ZM650.18 534.95L647.53 540.25L652.83 540.25ZM658.72 534.95L656.07 540.25L661.37 540.25ZM667.26 534.95L664.61 540.25L669.91 540.25Z" fill="#ff0000" stroke="#ff0000" stroke-width="0.8" stroke-linejoin="miter" clip-path="url(#c8)"/>
<path d="M513.9 411.4H527.6" stroke="#ff0000" stroke-width="1.5"/>
<text transform="translate(530.7 415.7) scale(0.9346 1)" font-size="12.84">120km</text>
<path d="M570.7 411.4H584.4" stroke="#2a8a1e" stroke-width="1.5"/>
<text transform="translate(587.5 415.7) scale(0.9346 1)" font-size="12.84">60km</text>
<path d="M622.2 411.4H635.9" stroke="#0000ff" stroke-width="1.5"/>
<text transform="translate(639 415.7) scale(0.9346 1)" font-size="12.84">30km</text>
<polyline points="37.4,636.82 45.94,630.78 54.48,661.95 63.02,687.85 71.56,690.93 80.1,705.96 88.64,703.77 97.18,703.77 105.72,697.4 114.26,696.63 122.8,697.29 131.34,698.28 139.88,699.93 148.42,703.55 156.96,706.84 165.5,706.18 174.04,709.26 182.58,705.3 191.12,704.54 199.66,703.22 208.2,695.65" fill="none" stroke="#0000ff" stroke-width="1.5" stroke-linejoin="round" clip-path="url(#c9)"/>
<polyline points="271.3,639.35 279.84,620.8 288.38,660.75 296.92,687.42 305.46,690.82 314,703.77 322.54,700.48 331.08,702.89 339.62,698.39 348.16,701.24 356.7,704.1 365.24,703.88 373.78,704.87 382.32,707.06 390.86,709.26 399.4,706.18 407.94,702.56 416.48,708.38 425.02,709.69 433.56,709.26 442.1,703.55" fill="none" stroke="#0000ff" stroke-width="1.5" stroke-linejoin="round" clip-path="url(#c10)"/>
<polyline points="505,640.99 513.54,631.11 522.08,665.47 530.62,681.49 539.16,687.85 547.7,697.4 556.24,695.1 564.78,695.1 573.32,688.18 581.86,688.51 590.4,687.96 598.94,688.18 607.48,687.42 616.02,686.1 624.56,685.88 633.1,684.56 641.64,678.96 650.18,678.96 658.72,674.9 667.26,671.61 675.8,668.32" fill="none" stroke="#ff0000" stroke-width="1.5" stroke-linejoin="round" clip-path="url(#c11)"/>
<polyline points="505,647.47 513.54,643.63 522.08,661.95 530.62,679.07 539.16,683.14 547.7,687.2 556.24,681.71 564.78,679.73 573.32,674.9 581.86,674.68 590.4,673.59 598.94,671.61 607.48,671.61 616.02,672.27 624.56,671.06 633.1,670.73 641.64,665.36 650.18,664.37 658.72,664.37 667.26,664.37 675.8,662.72" fill="none" stroke="#2a8a1e" stroke-width="1.5" stroke-linejoin="round" clip-path="url(#c11)"/>
<polyline points="505,644.39 513.54,636.16 522.08,659.32 530.62,668.87 539.16,667.55 547.7,673.37 556.24,667.55 564.78,666.56 573.32,664.37 581.86,667.22 590.4,662.94 598.94,663.49 607.48,662.72 616.02,665.47 624.56,664.81 633.1,666.12 641.64,658.88 650.18,662.39 658.72,662.39 667.26,659.76 675.8,660.2" fill="none" stroke="#0000ff" stroke-width="1.5" stroke-linejoin="round" clip-path="url(#c11)"/>
<path d="M513.9 606H527.6" stroke="#ff0000" stroke-width="1.5"/>
<text transform="translate(530.7 610.3) scale(0.9346 1)" font-size="12.84">120km</text>
<path d="M570.7 606H584.4" stroke="#2a8a1e" stroke-width="1.5"/>
<text transform="translate(587.5 610.3) scale(0.9346 1)" font-size="12.84">60km</text>
<path d="M622.2 606H635.9" stroke="#0000ff" stroke-width="1.5"/>
<text transform="translate(639 610.3) scale(0.9346 1)" font-size="12.84">30km</text>
<path d="M37.4 163.4v4M37.4 31.7v-4M45.94 163.4v1.8M45.94 31.7v-1.8M54.48 163.4v1.8M54.48 31.7v-1.8M63.02 163.4v1.8M63.02 31.7v-1.8M71.56 163.4v4M71.56 31.7v-4M80.1 163.4v1.8M80.1 31.7v-1.8M88.64 163.4v1.8M88.64 31.7v-1.8M97.18 163.4v1.8M97.18 31.7v-1.8M105.72 163.4v4M105.72 31.7v-4M114.26 163.4v1.8M114.26 31.7v-1.8M122.8 163.4v1.8M122.8 31.7v-1.8M131.34 163.4v1.8M131.34 31.7v-1.8M139.88 163.4v4M139.88 31.7v-4M148.42 163.4v1.8M148.42 31.7v-1.8M156.96 163.4v1.8M156.96 31.7v-1.8M165.5 163.4v1.8M165.5 31.7v-1.8M174.04 163.4v4M174.04 31.7v-4M182.58 163.4v1.8M182.58 31.7v-1.8M191.12 163.4v1.8M191.12 31.7v-1.8M199.66 163.4v1.8M199.66 31.7v-1.8M208.2 163.4v4M208.2 31.7v-4M37.4 146.22h-4M208.2 146.22h4M37.4 123.32h-4M208.2 123.32h4M37.4 100.41h-4M208.2 100.41h4M37.4 77.51h-4M208.2 77.51h4M37.4 54.6h-4M208.2 54.6h4M37.4 31.7h-4M208.2 31.7h4M37.4 134.77h-1.8M208.2 134.77h1.8M37.4 111.87h-1.8M208.2 111.87h1.8M37.4 88.96h-1.8M208.2 88.96h1.8M37.4 66.06h-1.8M208.2 66.06h1.8M37.4 43.15h-1.8M208.2 43.15h1.8" stroke="#2b2b2b" stroke-width="1" fill="none"/>
<rect x="37.4" y="31.7" width="170.8" height="131.7" stroke="#2b2b2b" stroke-width="1.1" fill="none"/>
<text transform="translate(31.2 150.42) scale(0.9091 1)" text-anchor="end" font-size="12.32">0</text>
<text transform="translate(31.2 127.52) scale(0.9091 1)" text-anchor="end" font-size="12.32">100</text>
<text transform="translate(31.2 104.61) scale(0.9091 1)" text-anchor="end" font-size="12.32">200</text>
<text transform="translate(31.2 81.71) scale(0.9091 1)" text-anchor="end" font-size="12.32">300</text>
<text transform="translate(31.2 58.8) scale(0.9091 1)" text-anchor="end" font-size="12.32">400</text>
<text transform="translate(31.2 35.9) scale(0.9091 1)" text-anchor="end" font-size="12.32">500</text>
<text transform="translate(37.4 177.1) scale(0.9091 1)" text-anchor="middle" font-size="12.32">0</text>
<text transform="translate(71.56 177.1) scale(0.9091 1)" text-anchor="middle" font-size="12.32">24</text>
<text transform="translate(105.72 177.1) scale(0.9091 1)" text-anchor="middle" font-size="12.32">48</text>
<text transform="translate(139.88 177.1) scale(0.9091 1)" text-anchor="middle" font-size="12.32">72</text>
<text transform="translate(174.04 177.1) scale(0.9091 1)" text-anchor="middle" font-size="12.32">96</text>
<text transform="translate(208.2 177.1) scale(0.9091 1)" text-anchor="middle" font-size="12.32">120</text>
<text transform="translate(124.2 187.7) scale(0.8696 1)" text-anchor="middle" font-size="12.42">Time (h)</text>
<text transform="translate(11.2 97.55) rotate(-90) scale(1 0.89)" text-anchor="middle" font-size="11.5">Error and Spread (km)</text>
<text x="38.7" y="12.8" font-size="17.1">(a1)</text>
<path d="M271.3 163.4v4M271.3 31.7v-4M279.84 163.4v1.8M279.84 31.7v-1.8M288.38 163.4v1.8M288.38 31.7v-1.8M296.92 163.4v1.8M296.92 31.7v-1.8M305.46 163.4v4M305.46 31.7v-4M314 163.4v1.8M314 31.7v-1.8M322.54 163.4v1.8M322.54 31.7v-1.8M331.08 163.4v1.8M331.08 31.7v-1.8M339.62 163.4v4M339.62 31.7v-4M348.16 163.4v1.8M348.16 31.7v-1.8M356.7 163.4v1.8M356.7 31.7v-1.8M365.24 163.4v1.8M365.24 31.7v-1.8M373.78 163.4v4M373.78 31.7v-4M382.32 163.4v1.8M382.32 31.7v-1.8M390.86 163.4v1.8M390.86 31.7v-1.8M399.4 163.4v1.8M399.4 31.7v-1.8M407.94 163.4v4M407.94 31.7v-4M416.48 163.4v1.8M416.48 31.7v-1.8M425.02 163.4v1.8M425.02 31.7v-1.8M433.56 163.4v1.8M433.56 31.7v-1.8M442.1 163.4v4M442.1 31.7v-4M271.3 148.77h-4M442.1 148.77h4M271.3 129.26h-4M442.1 129.26h4M271.3 109.74h-4M442.1 109.74h4M271.3 90.23h-4M442.1 90.23h4M271.3 70.72h-4M442.1 70.72h4M271.3 51.21h-4M442.1 51.21h4M271.3 31.7h-4M442.1 31.7h4" stroke="#2b2b2b" stroke-width="1" fill="none"/>
<rect x="271.3" y="31.7" width="170.8" height="131.7" stroke="#2b2b2b" stroke-width="1.1" fill="none"/>
<text transform="translate(265.1 152.97) scale(0.9091 1)" text-anchor="end" font-size="12.32">0</text>
<text transform="translate(265.1 133.46) scale(0.9091 1)" text-anchor="end" font-size="12.32">1</text>
<text transform="translate(265.1 113.94) scale(0.9091 1)" text-anchor="end" font-size="12.32">2</text>
<text transform="translate(265.1 94.43) scale(0.9091 1)" text-anchor="end" font-size="12.32">3</text>
<text transform="translate(265.1 74.92) scale(0.9091 1)" text-anchor="end" font-size="12.32">4</text>
<text transform="translate(265.1 55.41) scale(0.9091 1)" text-anchor="end" font-size="12.32">5</text>
<text transform="translate(265.1 35.9) scale(0.9091 1)" text-anchor="end" font-size="12.32">6</text>
<text transform="translate(271.3 177.1) scale(0.9091 1)" text-anchor="middle" font-size="12.32">0</text>
<text transform="translate(305.46 177.1) scale(0.9091 1)" text-anchor="middle" font-size="12.32">24</text>
<text transform="translate(339.62 177.1) scale(0.9091 1)" text-anchor="middle" font-size="12.32">48</text>
<text transform="translate(373.78 177.1) scale(0.9091 1)" text-anchor="middle" font-size="12.32">72</text>
<text transform="translate(407.94 177.1) scale(0.9091 1)" text-anchor="middle" font-size="12.32">96</text>
<text transform="translate(442.1 177.1) scale(0.9091 1)" text-anchor="middle" font-size="12.32">120</text>
<text transform="translate(358.1 187.7) scale(0.8696 1)" text-anchor="middle" font-size="12.42">Time (h)</text>
<text transform="translate(258.3 97.55) rotate(-90)" text-anchor="middle" font-size="11.5">CRPS</text>
<text x="272.6" y="12.8" font-size="17.1">(a2)</text>
<path d="M505 163.4v4M505 31.7v-4M513.54 163.4v1.8M513.54 31.7v-1.8M522.08 163.4v1.8M522.08 31.7v-1.8M530.62 163.4v1.8M530.62 31.7v-1.8M539.16 163.4v4M539.16 31.7v-4M547.7 163.4v1.8M547.7 31.7v-1.8M556.24 163.4v1.8M556.24 31.7v-1.8M564.78 163.4v1.8M564.78 31.7v-1.8M573.32 163.4v4M573.32 31.7v-4M581.86 163.4v1.8M581.86 31.7v-1.8M590.4 163.4v1.8M590.4 31.7v-1.8M598.94 163.4v1.8M598.94 31.7v-1.8M607.48 163.4v4M607.48 31.7v-4M616.02 163.4v1.8M616.02 31.7v-1.8M624.56 163.4v1.8M624.56 31.7v-1.8M633.1 163.4v1.8M633.1 31.7v-1.8M641.64 163.4v4M641.64 31.7v-4M650.18 163.4v1.8M650.18 31.7v-1.8M658.72 163.4v1.8M658.72 31.7v-1.8M667.26 163.4v1.8M667.26 31.7v-1.8M675.8 163.4v4M675.8 31.7v-4M505 129.71h-4M675.8 129.71h4M505 105.21h-4M675.8 105.21h4M505 80.7h-4M675.8 80.7h4M505 56.2h-4M675.8 56.2h4M505 31.7h-4M675.8 31.7h4" stroke="#2b2b2b" stroke-width="1" fill="none"/>
<rect x="505" y="31.7" width="170.8" height="131.7" stroke="#2b2b2b" stroke-width="1.1" fill="none"/>
<text transform="translate(498.8 133.91) scale(0.9091 1)" text-anchor="end" font-size="12.32">0</text>
<text transform="translate(498.8 109.41) scale(0.9091 1)" text-anchor="end" font-size="12.32">20</text>
<text transform="translate(498.8 84.9) scale(0.9091 1)" text-anchor="end" font-size="12.32">40</text>
<text transform="translate(498.8 60.4) scale(0.9091 1)" text-anchor="end" font-size="12.32">60</text>
<text transform="translate(498.8 35.9) scale(0.9091 1)" text-anchor="end" font-size="12.32">80</text>
<text transform="translate(505 177.1) scale(0.9091 1)" text-anchor="middle" font-size="12.32">0</text>
<text transform="translate(539.16 177.1) scale(0.9091 1)" text-anchor="middle" font-size="12.32">24</text>
<text transform="translate(573.32 177.1) scale(0.9091 1)" text-anchor="middle" font-size="12.32">48</text>
<text transform="translate(607.48 177.1) scale(0.9091 1)" text-anchor="middle" font-size="12.32">72</text>
<text transform="translate(641.64 177.1) scale(0.9091 1)" text-anchor="middle" font-size="12.32">96</text>
<text transform="translate(675.8 177.1) scale(0.9091 1)" text-anchor="middle" font-size="12.32">120</text>
<text transform="translate(591.8 187.7) scale(0.8696 1)" text-anchor="middle" font-size="12.42">Time (h)</text>
<text transform="translate(485.9 97.55) rotate(-90)" text-anchor="middle" font-size="11.5">BS</text>
<text x="506.3" y="12.8" font-size="17.1">(a3)</text>
<path d="M37.4 358.1v4M37.4 226.4v-4M45.94 358.1v1.8M45.94 226.4v-1.8M54.48 358.1v1.8M54.48 226.4v-1.8M63.02 358.1v1.8M63.02 226.4v-1.8M71.56 358.1v4M71.56 226.4v-4M80.1 358.1v1.8M80.1 226.4v-1.8M88.64 358.1v1.8M88.64 226.4v-1.8M97.18 358.1v1.8M97.18 226.4v-1.8M105.72 358.1v4M105.72 226.4v-4M114.26 358.1v1.8M114.26 226.4v-1.8M122.8 358.1v1.8M122.8 226.4v-1.8M131.34 358.1v1.8M131.34 226.4v-1.8M139.88 358.1v4M139.88 226.4v-4M148.42 358.1v1.8M148.42 226.4v-1.8M156.96 358.1v1.8M156.96 226.4v-1.8M165.5 358.1v1.8M165.5 226.4v-1.8M174.04 358.1v4M174.04 226.4v-4M182.58 358.1v1.8M182.58 226.4v-1.8M191.12 358.1v1.8M191.12 226.4v-1.8M199.66 358.1v1.8M199.66 226.4v-1.8M208.2 358.1v4M208.2 226.4v-4M37.4 358.1h-4M208.2 358.1h4M37.4 336.15h-4M208.2 336.15h4M37.4 314.2h-4M208.2 314.2h4M37.4 292.25h-4M208.2 292.25h4M37.4 270.3h-4M208.2 270.3h4M37.4 248.35h-4M208.2 248.35h4M37.4 226.4h-4M208.2 226.4h4M37.4 347.12h-1.8M208.2 347.12h1.8M37.4 325.17h-1.8M208.2 325.17h1.8M37.4 303.22h-1.8M208.2 303.22h1.8M37.4 281.27h-1.8M208.2 281.27h1.8M37.4 259.32h-1.8M208.2 259.32h1.8M37.4 237.38h-1.8M208.2 237.38h1.8" stroke="#2b2b2b" stroke-width="1" fill="none"/>
<rect x="37.4" y="226.4" width="170.8" height="131.7" stroke="#2b2b2b" stroke-width="1.1" fill="none"/>
<text transform="translate(31.2 362.3) scale(0.9091 1)" text-anchor="end" font-size="12.32"><tspan dy="0.8">&#8722;</tspan><tspan dy="-0.8">0.8</tspan></text>
<text transform="translate(31.2 340.35) scale(0.9091 1)" text-anchor="end" font-size="12.32"><tspan dy="0.8">&#8722;</tspan><tspan dy="-0.8">0.6</tspan></text>
<text transform="translate(31.2 318.4) scale(0.9091 1)" text-anchor="end" font-size="12.32"><tspan dy="0.8">&#8722;</tspan><tspan dy="-0.8">0.4</tspan></text>
<text transform="translate(31.2 296.45) scale(0.9091 1)" text-anchor="end" font-size="12.32"><tspan dy="0.8">&#8722;</tspan><tspan dy="-0.8">0.2</tspan></text>
<text transform="translate(31.2 274.5) scale(0.9091 1)" text-anchor="end" font-size="12.32">0.0</text>
<text transform="translate(31.2 252.55) scale(0.9091 1)" text-anchor="end" font-size="12.32">0.2</text>
<text transform="translate(31.2 230.6) scale(0.9091 1)" text-anchor="end" font-size="12.32">0.4</text>
<text transform="translate(37.4 371.8) scale(0.9091 1)" text-anchor="middle" font-size="12.32">0</text>
<text transform="translate(71.56 371.8) scale(0.9091 1)" text-anchor="middle" font-size="12.32">24</text>
<text transform="translate(105.72 371.8) scale(0.9091 1)" text-anchor="middle" font-size="12.32">48</text>
<text transform="translate(139.88 371.8) scale(0.9091 1)" text-anchor="middle" font-size="12.32">72</text>
<text transform="translate(174.04 371.8) scale(0.9091 1)" text-anchor="middle" font-size="12.32">96</text>
<text transform="translate(208.2 371.8) scale(0.9091 1)" text-anchor="middle" font-size="12.32">120</text>
<text transform="translate(124.2 382.4) scale(0.8696 1)" text-anchor="middle" font-size="12.42">Time (h)</text>
<text transform="translate(9.2 292.25) rotate(-90)" text-anchor="middle" font-size="11.5">Error</text>
<text x="38.7" y="207.5" font-size="17.1">(a4)</text>
<path d="M271.3 358.1v4M271.3 226.4v-4M279.84 358.1v1.8M279.84 226.4v-1.8M288.38 358.1v1.8M288.38 226.4v-1.8M296.92 358.1v1.8M296.92 226.4v-1.8M305.46 358.1v4M305.46 226.4v-4M314 358.1v1.8M314 226.4v-1.8M322.54 358.1v1.8M322.54 226.4v-1.8M331.08 358.1v1.8M331.08 226.4v-1.8M339.62 358.1v4M339.62 226.4v-4M348.16 358.1v1.8M348.16 226.4v-1.8M356.7 358.1v1.8M356.7 226.4v-1.8M365.24 358.1v1.8M365.24 226.4v-1.8M373.78 358.1v4M373.78 226.4v-4M382.32 358.1v1.8M382.32 226.4v-1.8M390.86 358.1v1.8M390.86 226.4v-1.8M399.4 358.1v1.8M399.4 226.4v-1.8M407.94 358.1v4M407.94 226.4v-4M416.48 358.1v1.8M416.48 226.4v-1.8M425.02 358.1v1.8M425.02 226.4v-1.8M433.56 358.1v1.8M433.56 226.4v-1.8M442.1 358.1v4M442.1 226.4v-4M271.3 358.1h-4M442.1 358.1h4M271.3 336.15h-4M442.1 336.15h4M271.3 314.2h-4M442.1 314.2h4M271.3 292.25h-4M442.1 292.25h4M271.3 270.3h-4M442.1 270.3h4M271.3 248.35h-4M442.1 248.35h4M271.3 226.4h-4M442.1 226.4h4M271.3 347.12h-1.8M442.1 347.12h1.8M271.3 325.17h-1.8M442.1 325.17h1.8M271.3 303.22h-1.8M442.1 303.22h1.8M271.3 281.27h-1.8M442.1 281.27h1.8M271.3 259.32h-1.8M442.1 259.32h1.8M271.3 237.38h-1.8M442.1 237.38h1.8" stroke="#2b2b2b" stroke-width="1" fill="none"/>
<rect x="271.3" y="226.4" width="170.8" height="131.7" stroke="#2b2b2b" stroke-width="1.1" fill="none"/>
<text transform="translate(265.1 362.3) scale(0.9091 1)" text-anchor="end" font-size="12.32"><tspan dy="0.8">&#8722;</tspan><tspan dy="-0.8">0.8</tspan></text>
<text transform="translate(265.1 340.35) scale(0.9091 1)" text-anchor="end" font-size="12.32"><tspan dy="0.8">&#8722;</tspan><tspan dy="-0.8">0.6</tspan></text>
<text transform="translate(265.1 318.4) scale(0.9091 1)" text-anchor="end" font-size="12.32"><tspan dy="0.8">&#8722;</tspan><tspan dy="-0.8">0.4</tspan></text>
<text transform="translate(265.1 296.45) scale(0.9091 1)" text-anchor="end" font-size="12.32"><tspan dy="0.8">&#8722;</tspan><tspan dy="-0.8">0.2</tspan></text>
<text transform="translate(265.1 274.5) scale(0.9091 1)" text-anchor="end" font-size="12.32">0.0</text>
<text transform="translate(265.1 252.55) scale(0.9091 1)" text-anchor="end" font-size="12.32">0.2</text>
<text transform="translate(265.1 230.6) scale(0.9091 1)" text-anchor="end" font-size="12.32">0.4</text>
<text transform="translate(271.3 371.8) scale(0.9091 1)" text-anchor="middle" font-size="12.32">0</text>
<text transform="translate(305.46 371.8) scale(0.9091 1)" text-anchor="middle" font-size="12.32">24</text>
<text transform="translate(339.62 371.8) scale(0.9091 1)" text-anchor="middle" font-size="12.32">48</text>
<text transform="translate(373.78 371.8) scale(0.9091 1)" text-anchor="middle" font-size="12.32">72</text>
<text transform="translate(407.94 371.8) scale(0.9091 1)" text-anchor="middle" font-size="12.32">96</text>
<text transform="translate(442.1 371.8) scale(0.9091 1)" text-anchor="middle" font-size="12.32">120</text>
<text transform="translate(358.1 382.4) scale(0.8696 1)" text-anchor="middle" font-size="12.42">Time (h)</text>
<text transform="translate(243 292.25) rotate(-90)" text-anchor="middle" font-size="11.5">CRPS</text>
<text x="272.6" y="207.5" font-size="17.1">(a5)</text>
<path d="M505 358.1v4M505 226.4v-4M513.54 358.1v1.8M513.54 226.4v-1.8M522.08 358.1v1.8M522.08 226.4v-1.8M530.62 358.1v1.8M530.62 226.4v-1.8M539.16 358.1v4M539.16 226.4v-4M547.7 358.1v1.8M547.7 226.4v-1.8M556.24 358.1v1.8M556.24 226.4v-1.8M564.78 358.1v1.8M564.78 226.4v-1.8M573.32 358.1v4M573.32 226.4v-4M581.86 358.1v1.8M581.86 226.4v-1.8M590.4 358.1v1.8M590.4 226.4v-1.8M598.94 358.1v1.8M598.94 226.4v-1.8M607.48 358.1v4M607.48 226.4v-4M616.02 358.1v1.8M616.02 226.4v-1.8M624.56 358.1v1.8M624.56 226.4v-1.8M633.1 358.1v1.8M633.1 226.4v-1.8M641.64 358.1v4M641.64 226.4v-4M650.18 358.1v1.8M650.18 226.4v-1.8M658.72 358.1v1.8M658.72 226.4v-1.8M667.26 358.1v1.8M667.26 226.4v-1.8M675.8 358.1v4M675.8 226.4v-4M505 358.1h-4M675.8 358.1h4M505 336.15h-4M675.8 336.15h4M505 314.2h-4M675.8 314.2h4M505 292.25h-4M675.8 292.25h4M505 270.3h-4M675.8 270.3h4M505 248.35h-4M675.8 248.35h4M505 226.4h-4M675.8 226.4h4M505 347.12h-1.8M675.8 347.12h1.8M505 325.17h-1.8M675.8 325.17h1.8M505 303.22h-1.8M675.8 303.22h1.8M505 281.27h-1.8M675.8 281.27h1.8M505 259.32h-1.8M675.8 259.32h1.8M505 237.38h-1.8M675.8 237.38h1.8" stroke="#2b2b2b" stroke-width="1" fill="none"/>
<rect x="505" y="226.4" width="170.8" height="131.7" stroke="#2b2b2b" stroke-width="1.1" fill="none"/>
<text transform="translate(498.8 362.3) scale(0.9091 1)" text-anchor="end" font-size="12.32"><tspan dy="0.8">&#8722;</tspan><tspan dy="-0.8">0.8</tspan></text>
<text transform="translate(498.8 340.35) scale(0.9091 1)" text-anchor="end" font-size="12.32"><tspan dy="0.8">&#8722;</tspan><tspan dy="-0.8">0.6</tspan></text>
<text transform="translate(498.8 318.4) scale(0.9091 1)" text-anchor="end" font-size="12.32"><tspan dy="0.8">&#8722;</tspan><tspan dy="-0.8">0.4</tspan></text>
<text transform="translate(498.8 296.45) scale(0.9091 1)" text-anchor="end" font-size="12.32"><tspan dy="0.8">&#8722;</tspan><tspan dy="-0.8">0.2</tspan></text>
<text transform="translate(498.8 274.5) scale(0.9091 1)" text-anchor="end" font-size="12.32">0.0</text>
<text transform="translate(498.8 252.55) scale(0.9091 1)" text-anchor="end" font-size="12.32">0.2</text>
<text transform="translate(498.8 230.6) scale(0.9091 1)" text-anchor="end" font-size="12.32">0.4</text>
<text transform="translate(505 371.8) scale(0.9091 1)" text-anchor="middle" font-size="12.32">0</text>
<text transform="translate(539.16 371.8) scale(0.9091 1)" text-anchor="middle" font-size="12.32">24</text>
<text transform="translate(573.32 371.8) scale(0.9091 1)" text-anchor="middle" font-size="12.32">48</text>
<text transform="translate(607.48 371.8) scale(0.9091 1)" text-anchor="middle" font-size="12.32">72</text>
<text transform="translate(641.64 371.8) scale(0.9091 1)" text-anchor="middle" font-size="12.32">96</text>
<text transform="translate(675.8 371.8) scale(0.9091 1)" text-anchor="middle" font-size="12.32">120</text>
<text transform="translate(591.8 382.4) scale(0.8696 1)" text-anchor="middle" font-size="12.42">Time (h)</text>
<text transform="translate(476.5 292.25) rotate(-90)" text-anchor="middle" font-size="11.5">BS</text>
<text x="506.3" y="207.5" font-size="17.1">(a6)</text>
<path d="M37.4 552.3v4M37.4 420.6v-4M45.94 552.3v1.8M45.94 420.6v-1.8M54.48 552.3v1.8M54.48 420.6v-1.8M63.02 552.3v1.8M63.02 420.6v-1.8M71.56 552.3v4M71.56 420.6v-4M80.1 552.3v1.8M80.1 420.6v-1.8M88.64 552.3v1.8M88.64 420.6v-1.8M97.18 552.3v1.8M97.18 420.6v-1.8M105.72 552.3v4M105.72 420.6v-4M114.26 552.3v1.8M114.26 420.6v-1.8M122.8 552.3v1.8M122.8 420.6v-1.8M131.34 552.3v1.8M131.34 420.6v-1.8M139.88 552.3v4M139.88 420.6v-4M148.42 552.3v1.8M148.42 420.6v-1.8M156.96 552.3v1.8M156.96 420.6v-1.8M165.5 552.3v1.8M165.5 420.6v-1.8M174.04 552.3v4M174.04 420.6v-4M182.58 552.3v1.8M182.58 420.6v-1.8M191.12 552.3v1.8M191.12 420.6v-1.8M199.66 552.3v1.8M199.66 420.6v-1.8M208.2 552.3v4M208.2 420.6v-4M37.4 535.12h-4M208.2 535.12h4M37.4 512.22h-4M208.2 512.22h4M37.4 489.31h-4M208.2 489.31h4M37.4 466.41h-4M208.2 466.41h4M37.4 443.5h-4M208.2 443.5h4M37.4 420.6h-4M208.2 420.6h4M37.4 523.67h-1.8M208.2 523.67h1.8M37.4 500.77h-1.8M208.2 500.77h1.8M37.4 477.86h-1.8M208.2 477.86h1.8M37.4 454.96h-1.8M208.2 454.96h1.8M37.4 432.05h-1.8M208.2 432.05h1.8" stroke="#2b2b2b" stroke-width="1" fill="none"/>
<rect x="37.4" y="420.6" width="170.8" height="131.7" stroke="#2b2b2b" stroke-width="1.1" fill="none"/>
<text transform="translate(31.2 539.32) scale(0.9091 1)" text-anchor="end" font-size="12.32">0</text>
<text transform="translate(31.2 516.42) scale(0.9091 1)" text-anchor="end" font-size="12.32">100</text>
<text transform="translate(31.2 493.51) scale(0.9091 1)" text-anchor="end" font-size="12.32">200</text>
<text transform="translate(31.2 470.61) scale(0.9091 1)" text-anchor="end" font-size="12.32">300</text>
<text transform="translate(31.2 447.7) scale(0.9091 1)" text-anchor="end" font-size="12.32">400</text>
<text transform="translate(31.2 424.8) scale(0.9091 1)" text-anchor="end" font-size="12.32">500</text>
<text transform="translate(37.4 566) scale(0.9091 1)" text-anchor="middle" font-size="12.32">0</text>
<text transform="translate(71.56 566) scale(0.9091 1)" text-anchor="middle" font-size="12.32">24</text>
<text transform="translate(105.72 566) scale(0.9091 1)" text-anchor="middle" font-size="12.32">48</text>
<text transform="translate(139.88 566) scale(0.9091 1)" text-anchor="middle" font-size="12.32">72</text>
<text transform="translate(174.04 566) scale(0.9091 1)" text-anchor="middle" font-size="12.32">96</text>
<text transform="translate(208.2 566) scale(0.9091 1)" text-anchor="middle" font-size="12.32">120</text>
<text transform="translate(124.2 576.6) scale(0.8696 1)" text-anchor="middle" font-size="12.42">Time (h)</text>
<text transform="translate(11.2 486.45) rotate(-90) scale(1 0.89)" text-anchor="middle" font-size="11.5">Error and Spread (km)</text>
<text x="38.7" y="401.7" font-size="17.1">(b1)</text>
<path d="M271.3 552.3v4M271.3 420.6v-4M279.84 552.3v1.8M279.84 420.6v-1.8M288.38 552.3v1.8M288.38 420.6v-1.8M296.92 552.3v1.8M296.92 420.6v-1.8M305.46 552.3v4M305.46 420.6v-4M314 552.3v1.8M314 420.6v-1.8M322.54 552.3v1.8M322.54 420.6v-1.8M331.08 552.3v1.8M331.08 420.6v-1.8M339.62 552.3v4M339.62 420.6v-4M348.16 552.3v1.8M348.16 420.6v-1.8M356.7 552.3v1.8M356.7 420.6v-1.8M365.24 552.3v1.8M365.24 420.6v-1.8M373.78 552.3v4M373.78 420.6v-4M382.32 552.3v1.8M382.32 420.6v-1.8M390.86 552.3v1.8M390.86 420.6v-1.8M399.4 552.3v1.8M399.4 420.6v-1.8M407.94 552.3v4M407.94 420.6v-4M416.48 552.3v1.8M416.48 420.6v-1.8M425.02 552.3v1.8M425.02 420.6v-1.8M433.56 552.3v1.8M433.56 420.6v-1.8M442.1 552.3v4M442.1 420.6v-4M271.3 537.67h-4M442.1 537.67h4M271.3 518.16h-4M442.1 518.16h4M271.3 498.64h-4M442.1 498.64h4M271.3 479.13h-4M442.1 479.13h4M271.3 459.62h-4M442.1 459.62h4M271.3 440.11h-4M442.1 440.11h4M271.3 420.6h-4M442.1 420.6h4" stroke="#2b2b2b" stroke-width="1" fill="none"/>
<rect x="271.3" y="420.6" width="170.8" height="131.7" stroke="#2b2b2b" stroke-width="1.1" fill="none"/>
<text transform="translate(265.1 541.87) scale(0.9091 1)" text-anchor="end" font-size="12.32">0</text>
<text transform="translate(265.1 522.36) scale(0.9091 1)" text-anchor="end" font-size="12.32">1</text>
<text transform="translate(265.1 502.84) scale(0.9091 1)" text-anchor="end" font-size="12.32">2</text>
<text transform="translate(265.1 483.33) scale(0.9091 1)" text-anchor="end" font-size="12.32">3</text>
<text transform="translate(265.1 463.82) scale(0.9091 1)" text-anchor="end" font-size="12.32">4</text>
<text transform="translate(265.1 444.31) scale(0.9091 1)" text-anchor="end" font-size="12.32">5</text>
<text transform="translate(265.1 424.8) scale(0.9091 1)" text-anchor="end" font-size="12.32">6</text>
<text transform="translate(271.3 566) scale(0.9091 1)" text-anchor="middle" font-size="12.32">0</text>
<text transform="translate(305.46 566) scale(0.9091 1)" text-anchor="middle" font-size="12.32">24</text>
<text transform="translate(339.62 566) scale(0.9091 1)" text-anchor="middle" font-size="12.32">48</text>
<text transform="translate(373.78 566) scale(0.9091 1)" text-anchor="middle" font-size="12.32">72</text>
<text transform="translate(407.94 566) scale(0.9091 1)" text-anchor="middle" font-size="12.32">96</text>
<text transform="translate(442.1 566) scale(0.9091 1)" text-anchor="middle" font-size="12.32">120</text>
<text transform="translate(358.1 576.6) scale(0.8696 1)" text-anchor="middle" font-size="12.42">Time (h)</text>
<text transform="translate(258.3 486.45) rotate(-90)" text-anchor="middle" font-size="11.5">CRPS</text>
<text x="272.6" y="401.7" font-size="17.1">(b2)</text>
<path d="M505 552.3v4M505 420.6v-4M513.54 552.3v1.8M513.54 420.6v-1.8M522.08 552.3v1.8M522.08 420.6v-1.8M530.62 552.3v1.8M530.62 420.6v-1.8M539.16 552.3v4M539.16 420.6v-4M547.7 552.3v1.8M547.7 420.6v-1.8M556.24 552.3v1.8M556.24 420.6v-1.8M564.78 552.3v1.8M564.78 420.6v-1.8M573.32 552.3v4M573.32 420.6v-4M581.86 552.3v1.8M581.86 420.6v-1.8M590.4 552.3v1.8M590.4 420.6v-1.8M598.94 552.3v1.8M598.94 420.6v-1.8M607.48 552.3v4M607.48 420.6v-4M616.02 552.3v1.8M616.02 420.6v-1.8M624.56 552.3v1.8M624.56 420.6v-1.8M633.1 552.3v1.8M633.1 420.6v-1.8M641.64 552.3v4M641.64 420.6v-4M650.18 552.3v1.8M650.18 420.6v-1.8M658.72 552.3v1.8M658.72 420.6v-1.8M667.26 552.3v1.8M667.26 420.6v-1.8M675.8 552.3v4M675.8 420.6v-4M505 518.61h-4M675.8 518.61h4M505 494.11h-4M675.8 494.11h4M505 469.6h-4M675.8 469.6h4M505 445.1h-4M675.8 445.1h4M505 420.6h-4M675.8 420.6h4" stroke="#2b2b2b" stroke-width="1" fill="none"/>
<rect x="505" y="420.6" width="170.8" height="131.7" stroke="#2b2b2b" stroke-width="1.1" fill="none"/>
<text transform="translate(498.8 522.81) scale(0.9091 1)" text-anchor="end" font-size="12.32">0</text>
<text transform="translate(498.8 498.31) scale(0.9091 1)" text-anchor="end" font-size="12.32">20</text>
<text transform="translate(498.8 473.8) scale(0.9091 1)" text-anchor="end" font-size="12.32">40</text>
<text transform="translate(498.8 449.3) scale(0.9091 1)" text-anchor="end" font-size="12.32">60</text>
<text transform="translate(498.8 424.8) scale(0.9091 1)" text-anchor="end" font-size="12.32">80</text>
<text transform="translate(505 566) scale(0.9091 1)" text-anchor="middle" font-size="12.32">0</text>
<text transform="translate(539.16 566) scale(0.9091 1)" text-anchor="middle" font-size="12.32">24</text>
<text transform="translate(573.32 566) scale(0.9091 1)" text-anchor="middle" font-size="12.32">48</text>
<text transform="translate(607.48 566) scale(0.9091 1)" text-anchor="middle" font-size="12.32">72</text>
<text transform="translate(641.64 566) scale(0.9091 1)" text-anchor="middle" font-size="12.32">96</text>
<text transform="translate(675.8 566) scale(0.9091 1)" text-anchor="middle" font-size="12.32">120</text>
<text transform="translate(591.8 576.6) scale(0.8696 1)" text-anchor="middle" font-size="12.42">Time (h)</text>
<text transform="translate(485.9 486.45) rotate(-90)" text-anchor="middle" font-size="11.5">BS</text>
<text x="506.3" y="401.7" font-size="17.1">(b3)</text>
<path d="M37.4 746.9v4M37.4 615.2v-4M45.94 746.9v1.8M45.94 615.2v-1.8M54.48 746.9v1.8M54.48 615.2v-1.8M63.02 746.9v1.8M63.02 615.2v-1.8M71.56 746.9v4M71.56 615.2v-4M80.1 746.9v1.8M80.1 615.2v-1.8M88.64 746.9v1.8M88.64 615.2v-1.8M97.18 746.9v1.8M97.18 615.2v-1.8M105.72 746.9v4M105.72 615.2v-4M114.26 746.9v1.8M114.26 615.2v-1.8M122.8 746.9v1.8M122.8 615.2v-1.8M131.34 746.9v1.8M131.34 615.2v-1.8M139.88 746.9v4M139.88 615.2v-4M148.42 746.9v1.8M148.42 615.2v-1.8M156.96 746.9v1.8M156.96 615.2v-1.8M165.5 746.9v1.8M165.5 615.2v-1.8M174.04 746.9v4M174.04 615.2v-4M182.58 746.9v1.8M182.58 615.2v-1.8M191.12 746.9v1.8M191.12 615.2v-1.8M199.66 746.9v1.8M199.66 615.2v-1.8M208.2 746.9v4M208.2 615.2v-4M37.4 746.9h-4M208.2 746.9h4M37.4 724.95h-4M208.2 724.95h4M37.4 703h-4M208.2 703h4M37.4 681.05h-4M208.2 681.05h4M37.4 659.1h-4M208.2 659.1h4M37.4 637.15h-4M208.2 637.15h4M37.4 615.2h-4M208.2 615.2h4M37.4 735.93h-1.8M208.2 735.93h1.8M37.4 713.98h-1.8M208.2 713.98h1.8M37.4 692.02h-1.8M208.2 692.02h1.8M37.4 670.08h-1.8M208.2 670.08h1.8M37.4 648.12h-1.8M208.2 648.12h1.8M37.4 626.18h-1.8M208.2 626.18h1.8" stroke="#2b2b2b" stroke-width="1" fill="none"/>
<rect x="37.4" y="615.2" width="170.8" height="131.7" stroke="#2b2b2b" stroke-width="1.1" fill="none"/>
<text transform="translate(31.2 751.1) scale(0.9091 1)" text-anchor="end" font-size="12.32"><tspan dy="0.8">&#8722;</tspan><tspan dy="-0.8">0.8</tspan></text>
<text transform="translate(31.2 729.15) scale(0.9091 1)" text-anchor="end" font-size="12.32"><tspan dy="0.8">&#8722;</tspan><tspan dy="-0.8">0.6</tspan></text>
<text transform="translate(31.2 707.2) scale(0.9091 1)" text-anchor="end" font-size="12.32"><tspan dy="0.8">&#8722;</tspan><tspan dy="-0.8">0.4</tspan></text>
<text transform="translate(31.2 685.25) scale(0.9091 1)" text-anchor="end" font-size="12.32"><tspan dy="0.8">&#8722;</tspan><tspan dy="-0.8">0.2</tspan></text>
<text transform="translate(31.2 663.3) scale(0.9091 1)" text-anchor="end" font-size="12.32">0.0</text>
<text transform="translate(31.2 641.35) scale(0.9091 1)" text-anchor="end" font-size="12.32">0.2</text>
<text transform="translate(31.2 619.4) scale(0.9091 1)" text-anchor="end" font-size="12.32">0.4</text>
<text transform="translate(37.4 760.6) scale(0.9091 1)" text-anchor="middle" font-size="12.32">0</text>
<text transform="translate(71.56 760.6) scale(0.9091 1)" text-anchor="middle" font-size="12.32">24</text>
<text transform="translate(105.72 760.6) scale(0.9091 1)" text-anchor="middle" font-size="12.32">48</text>
<text transform="translate(139.88 760.6) scale(0.9091 1)" text-anchor="middle" font-size="12.32">72</text>
<text transform="translate(174.04 760.6) scale(0.9091 1)" text-anchor="middle" font-size="12.32">96</text>
<text transform="translate(208.2 760.6) scale(0.9091 1)" text-anchor="middle" font-size="12.32">120</text>
<text transform="translate(124.2 771.2) scale(0.8696 1)" text-anchor="middle" font-size="12.42">Time (h)</text>
<text transform="translate(9.2 681.05) rotate(-90)" text-anchor="middle" font-size="11.5">Error</text>
<text x="38.7" y="596.3" font-size="17.1">(b4)</text>
<path d="M271.3 746.9v4M271.3 615.2v-4M279.84 746.9v1.8M279.84 615.2v-1.8M288.38 746.9v1.8M288.38 615.2v-1.8M296.92 746.9v1.8M296.92 615.2v-1.8M305.46 746.9v4M305.46 615.2v-4M314 746.9v1.8M314 615.2v-1.8M322.54 746.9v1.8M322.54 615.2v-1.8M331.08 746.9v1.8M331.08 615.2v-1.8M339.62 746.9v4M339.62 615.2v-4M348.16 746.9v1.8M348.16 615.2v-1.8M356.7 746.9v1.8M356.7 615.2v-1.8M365.24 746.9v1.8M365.24 615.2v-1.8M373.78 746.9v4M373.78 615.2v-4M382.32 746.9v1.8M382.32 615.2v-1.8M390.86 746.9v1.8M390.86 615.2v-1.8M399.4 746.9v1.8M399.4 615.2v-1.8M407.94 746.9v4M407.94 615.2v-4M416.48 746.9v1.8M416.48 615.2v-1.8M425.02 746.9v1.8M425.02 615.2v-1.8M433.56 746.9v1.8M433.56 615.2v-1.8M442.1 746.9v4M442.1 615.2v-4M271.3 746.9h-4M442.1 746.9h4M271.3 724.95h-4M442.1 724.95h4M271.3 703h-4M442.1 703h4M271.3 681.05h-4M442.1 681.05h4M271.3 659.1h-4M442.1 659.1h4M271.3 637.15h-4M442.1 637.15h4M271.3 615.2h-4M442.1 615.2h4M271.3 735.93h-1.8M442.1 735.93h1.8M271.3 713.98h-1.8M442.1 713.98h1.8M271.3 692.02h-1.8M442.1 692.02h1.8M271.3 670.08h-1.8M442.1 670.08h1.8M271.3 648.12h-1.8M442.1 648.12h1.8M271.3 626.18h-1.8M442.1 626.18h1.8" stroke="#2b2b2b" stroke-width="1" fill="none"/>
<rect x="271.3" y="615.2" width="170.8" height="131.7" stroke="#2b2b2b" stroke-width="1.1" fill="none"/>
<text transform="translate(265.1 751.1) scale(0.9091 1)" text-anchor="end" font-size="12.32"><tspan dy="0.8">&#8722;</tspan><tspan dy="-0.8">0.8</tspan></text>
<text transform="translate(265.1 729.15) scale(0.9091 1)" text-anchor="end" font-size="12.32"><tspan dy="0.8">&#8722;</tspan><tspan dy="-0.8">0.6</tspan></text>
<text transform="translate(265.1 707.2) scale(0.9091 1)" text-anchor="end" font-size="12.32"><tspan dy="0.8">&#8722;</tspan><tspan dy="-0.8">0.4</tspan></text>
<text transform="translate(265.1 685.25) scale(0.9091 1)" text-anchor="end" font-size="12.32"><tspan dy="0.8">&#8722;</tspan><tspan dy="-0.8">0.2</tspan></text>
<text transform="translate(265.1 663.3) scale(0.9091 1)" text-anchor="end" font-size="12.32">0.0</text>
<text transform="translate(265.1 641.35) scale(0.9091 1)" text-anchor="end" font-size="12.32">0.2</text>
<text transform="translate(265.1 619.4) scale(0.9091 1)" text-anchor="end" font-size="12.32">0.4</text>
<text transform="translate(271.3 760.6) scale(0.9091 1)" text-anchor="middle" font-size="12.32">0</text>
<text transform="translate(305.46 760.6) scale(0.9091 1)" text-anchor="middle" font-size="12.32">24</text>
<text transform="translate(339.62 760.6) scale(0.9091 1)" text-anchor="middle" font-size="12.32">48</text>
<text transform="translate(373.78 760.6) scale(0.9091 1)" text-anchor="middle" font-size="12.32">72</text>
<text transform="translate(407.94 760.6) scale(0.9091 1)" text-anchor="middle" font-size="12.32">96</text>
<text transform="translate(442.1 760.6) scale(0.9091 1)" text-anchor="middle" font-size="12.32">120</text>
<text transform="translate(358.1 771.2) scale(0.8696 1)" text-anchor="middle" font-size="12.42">Time (h)</text>
<text transform="translate(243 681.05) rotate(-90)" text-anchor="middle" font-size="11.5">CRPS</text>
<text x="272.6" y="596.3" font-size="17.1">(b5)</text>
<path d="M505 746.9v4M505 615.2v-4M513.54 746.9v1.8M513.54 615.2v-1.8M522.08 746.9v1.8M522.08 615.2v-1.8M530.62 746.9v1.8M530.62 615.2v-1.8M539.16 746.9v4M539.16 615.2v-4M547.7 746.9v1.8M547.7 615.2v-1.8M556.24 746.9v1.8M556.24 615.2v-1.8M564.78 746.9v1.8M564.78 615.2v-1.8M573.32 746.9v4M573.32 615.2v-4M581.86 746.9v1.8M581.86 615.2v-1.8M590.4 746.9v1.8M590.4 615.2v-1.8M598.94 746.9v1.8M598.94 615.2v-1.8M607.48 746.9v4M607.48 615.2v-4M616.02 746.9v1.8M616.02 615.2v-1.8M624.56 746.9v1.8M624.56 615.2v-1.8M633.1 746.9v1.8M633.1 615.2v-1.8M641.64 746.9v4M641.64 615.2v-4M650.18 746.9v1.8M650.18 615.2v-1.8M658.72 746.9v1.8M658.72 615.2v-1.8M667.26 746.9v1.8M667.26 615.2v-1.8M675.8 746.9v4M675.8 615.2v-4M505 746.9h-4M675.8 746.9h4M505 724.95h-4M675.8 724.95h4M505 703h-4M675.8 703h4M505 681.05h-4M675.8 681.05h4M505 659.1h-4M675.8 659.1h4M505 637.15h-4M675.8 637.15h4M505 615.2h-4M675.8 615.2h4M505 735.93h-1.8M675.8 735.93h1.8M505 713.98h-1.8M675.8 713.98h1.8M505 692.02h-1.8M675.8 692.02h1.8M505 670.08h-1.8M675.8 670.08h1.8M505 648.12h-1.8M675.8 648.12h1.8M505 626.18h-1.8M675.8 626.18h1.8" stroke="#2b2b2b" stroke-width="1" fill="none"/>
<rect x="505" y="615.2" width="170.8" height="131.7" stroke="#2b2b2b" stroke-width="1.1" fill="none"/>
<text transform="translate(498.8 751.1) scale(0.9091 1)" text-anchor="end" font-size="12.32"><tspan dy="0.8">&#8722;</tspan><tspan dy="-0.8">0.8</tspan></text>
<text transform="translate(498.8 729.15) scale(0.9091 1)" text-anchor="end" font-size="12.32"><tspan dy="0.8">&#8722;</tspan><tspan dy="-0.8">0.6</tspan></text>
<text transform="translate(498.8 707.2) scale(0.9091 1)" text-anchor="end" font-size="12.32"><tspan dy="0.8">&#8722;</tspan><tspan dy="-0.8">0.4</tspan></text>
<text transform="translate(498.8 685.25) scale(0.9091 1)" text-anchor="end" font-size="12.32"><tspan dy="0.8">&#8722;</tspan><tspan dy="-0.8">0.2</tspan></text>
<text transform="translate(498.8 663.3) scale(0.9091 1)" text-anchor="end" font-size="12.32">0.0</text>
<text transform="translate(498.8 641.35) scale(0.9091 1)" text-anchor="end" font-size="12.32">0.2</text>
<text transform="translate(498.8 619.4) scale(0.9091 1)" text-anchor="end" font-size="12.32">0.4</text>
<text transform="translate(505 760.6) scale(0.9091 1)" text-anchor="middle" font-size="12.32">0</text>
<text transform="translate(539.16 760.6) scale(0.9091 1)" text-anchor="middle" font-size="12.32">24</text>
<text transform="translate(573.32 760.6) scale(0.9091 1)" text-anchor="middle" font-size="12.32">48</text>
<text transform="translate(607.48 760.6) scale(0.9091 1)" text-anchor="middle" font-size="12.32">72</text>
<text transform="translate(641.64 760.6) scale(0.9091 1)" text-anchor="middle" font-size="12.32">96</text>
<text transform="translate(675.8 760.6) scale(0.9091 1)" text-anchor="middle" font-size="12.32">120</text>
<text transform="translate(591.8 771.2) scale(0.8696 1)" text-anchor="middle" font-size="12.42">Time (h)</text>
<text transform="translate(476.5 681.05) rotate(-90)" text-anchor="middle" font-size="11.5">BS</text>
<text x="506.3" y="596.3" font-size="17.1">(b6)</text>
</svg>
</body></html>
